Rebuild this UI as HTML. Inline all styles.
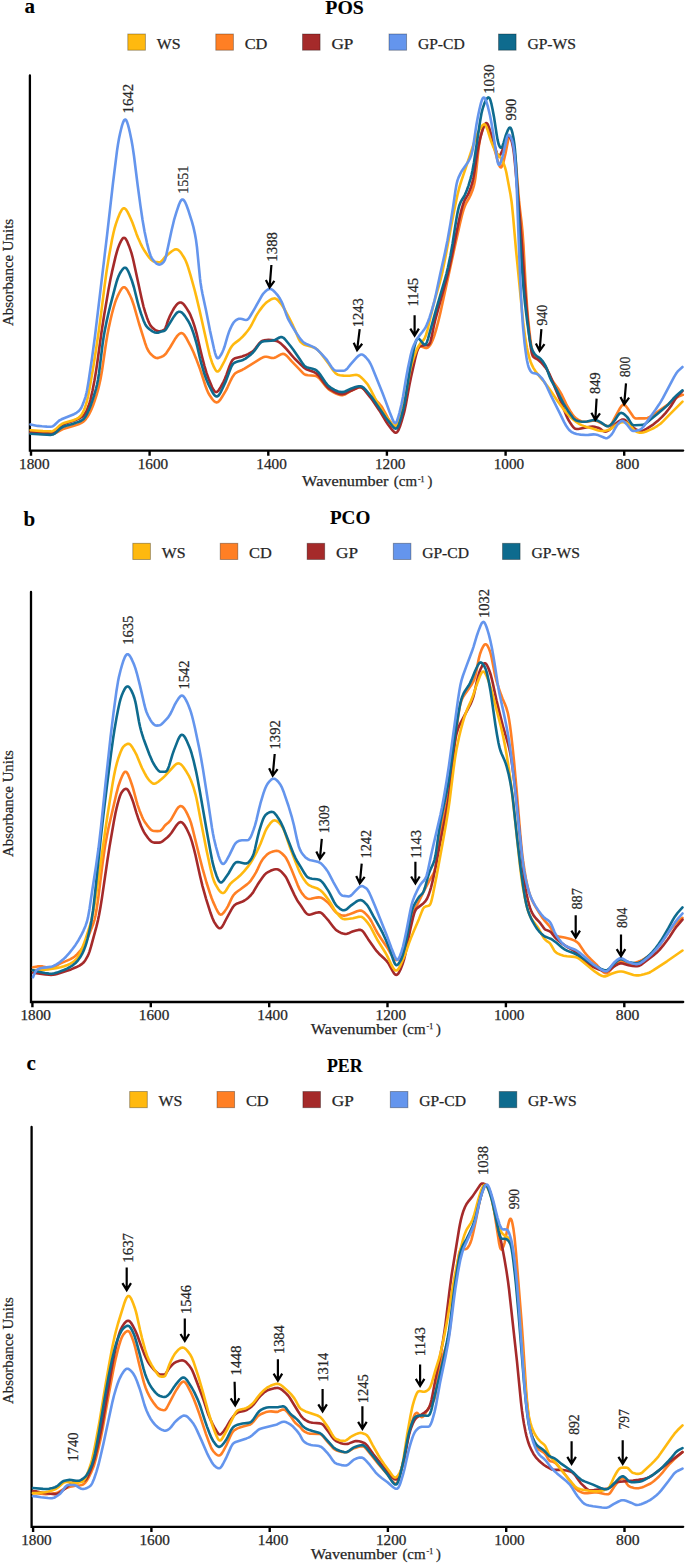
<!DOCTYPE html>
<html><head><meta charset="utf-8"><title>FTIR spectra</title>
<style>
html,body{margin:0;padding:0;background:#fff;}
body{width:685px;height:1563px;overflow:hidden;}
svg{display:block;}
svg text{font-family:"Liberation Serif", serif;fill:#262626;stroke:#262626;stroke-width:0.25px;}
svg text.b{fill:#000;stroke:#000;stroke-width:0.1px;}
</style></head>
<body>
<svg width="685" height="1563" viewBox="0 0 685 1563">
<text x="24.5" y="12.7" font-size="21.0" font-weight="bold" class="b">a</text>
<text x="325.3" y="14.3" font-size="19.0" font-weight="bold" class="b" textLength="38.5" lengthAdjust="spacingAndGlyphs">POS</text>
<rect x="127.8" y="34.0" width="17.6" height="16.2" fill="#FFB90F" stroke="rgba(0,0,0,0.35)" stroke-width="0.9"/>
<text x="156.7" y="48.7" font-size="14.6" textLength="23.8" lengthAdjust="spacingAndGlyphs">WS</text>
<rect x="215.8" y="34.0" width="17.6" height="16.2" fill="#FF7F24" stroke="rgba(0,0,0,0.35)" stroke-width="0.9"/>
<text x="244.7" y="48.7" font-size="14.6" textLength="22.7" lengthAdjust="spacingAndGlyphs">CD</text>
<rect x="302.5" y="34.0" width="17.6" height="16.2" fill="#A52A2A" stroke="rgba(0,0,0,0.35)" stroke-width="0.9"/>
<text x="331.4" y="48.7" font-size="14.6" textLength="22.0" lengthAdjust="spacingAndGlyphs">GP</text>
<rect x="389.0" y="34.0" width="17.6" height="16.2" fill="#6495ED" stroke="rgba(0,0,0,0.35)" stroke-width="0.9"/>
<text x="417.9" y="48.7" font-size="14.6" textLength="46.8" lengthAdjust="spacingAndGlyphs">GP-CD</text>
<rect x="498.5" y="34.0" width="17.6" height="16.2" fill="#0E6B8E" stroke="rgba(0,0,0,0.35)" stroke-width="0.9"/>
<text x="527.4" y="48.7" font-size="14.6" textLength="48.6" lengthAdjust="spacingAndGlyphs">GP-WS</text>
<path d="M29.9,75.4V450.6H683.2" fill="none" stroke="#000" stroke-width="2.3" stroke-linecap="round"/>
<path d="M31.0,450.6V455.8M149.6,450.6V455.8M268.3,450.6V455.8M386.9,450.6V455.8M505.6,450.6V455.8M624.2,450.6V455.8" stroke="#000" stroke-width="2.4"/>
<text x="34.3" y="468.9" font-size="14.8" text-anchor="middle" textLength="30.5" lengthAdjust="spacingAndGlyphs">1800</text><text x="152.9" y="468.9" font-size="14.8" text-anchor="middle" textLength="30.5" lengthAdjust="spacingAndGlyphs">1600</text><text x="271.6" y="468.9" font-size="14.8" text-anchor="middle" textLength="30.5" lengthAdjust="spacingAndGlyphs">1400</text><text x="390.2" y="468.9" font-size="14.8" text-anchor="middle" textLength="30.5" lengthAdjust="spacingAndGlyphs">1200</text><text x="508.9" y="468.9" font-size="14.8" text-anchor="middle" textLength="30.5" lengthAdjust="spacingAndGlyphs">1000</text><text x="627.5" y="468.9" font-size="14.8" text-anchor="middle" textLength="23.5" lengthAdjust="spacingAndGlyphs">800</text>
<text x="302.1" y="486.4" font-size="14.6" textLength="86.3" lengthAdjust="spacingAndGlyphs">Wavenumber</text>
<text x="393.8" y="486.4" font-size="14.6" textLength="23.2" lengthAdjust="spacingAndGlyphs">(cm</text>
<text x="418.0" y="482.0" font-size="7.8">-1</text>
<text x="427.4" y="486.4" font-size="14.6">)</text>
<text transform="translate(12.5,326.0) rotate(-90)" font-size="15.0" textLength="107.1" lengthAdjust="spacingAndGlyphs">Absorbance Units</text>
<g fill="none" stroke-width="2.6" stroke-linejoin="round" stroke-linecap="round"><path d="M30.5,432.8L38.5,433.6L47.0,434.2L51.0,434.3L52.5,434.2L53.5,433.9L54.5,433.6L56.0,432.9L60.5,430.3L63.0,429.1L65.5,428.3L74.0,425.8L78.5,424.2L81.0,423.1L83.0,421.9L84.5,420.6L86.0,418.8L87.5,416.7L89.0,414.3L90.5,411.5L91.5,409.3L93.0,405.5L94.5,401.3L96.5,395.1L98.0,389.9L99.0,386.0L100.5,379.2L102.0,370.8L106.0,343.2L107.5,334.2L109.0,326.6L110.5,319.8L112.0,313.5L113.5,307.8L115.0,302.9L116.0,300.0L117.5,296.4L119.5,292.3L121.0,289.7L122.0,288.3L123.0,287.5L123.5,287.3L124.0,287.2L124.5,287.3L125.0,287.5L125.5,287.9L126.0,288.4L127.0,289.7L128.0,291.4L129.5,294.3L131.0,297.5L132.0,300.0L134.0,305.9L139.0,323.5L145.0,342.7L146.5,346.9L147.5,349.2L148.5,351.1L149.5,352.5L151.0,354.3L153.0,356.1L154.5,357.2L156.0,357.9L157.0,358.1L158.5,357.9L161.0,357.0L163.0,356.1L164.0,355.4L165.0,354.6L166.5,352.8L170.0,347.5L175.0,339.1L176.5,336.9L177.5,335.6L179.0,334.1L180.0,333.5L180.5,333.3L181.5,333.1L182.0,333.2L183.0,333.7L183.5,334.1L184.5,335.2L185.5,336.7L186.5,338.3L191.0,346.9L193.5,352.2L196.0,358.4L200.0,369.1L201.5,373.5L205.5,386.0L207.0,390.0L208.0,392.3L209.5,395.0L212.0,398.7L213.0,400.0L214.0,401.1L215.0,401.8L215.5,402.1L216.5,402.4L217.0,402.4L218.0,402.0L219.0,401.2L220.5,399.4L222.0,397.0L226.0,390.3L227.5,387.3L231.0,379.8L232.5,376.9L234.0,374.7L235.0,373.6L236.0,372.8L238.0,371.7L242.5,369.7L244.5,368.6L260.5,358.6L263.0,357.3L264.0,357.0L265.0,356.8L266.5,356.8L268.0,357.0L271.5,357.9L272.5,358.0L273.5,358.0L274.5,357.8L276.0,357.1L279.5,355.1L281.0,354.3L282.5,353.9L283.5,353.9L284.0,354.0L285.0,354.5L286.5,355.6L288.0,357.2L291.5,361.2L299.5,369.3L303.0,373.1L304.0,374.0L305.0,374.6L306.0,374.9L308.0,375.2L314.5,375.7L316.0,376.1L317.0,376.5L318.5,377.6L320.0,379.1L321.5,380.9L326.0,386.6L328.0,388.7L329.5,389.9L331.0,390.9L334.0,392.6L336.5,393.8L338.5,394.6L340.0,395.0L341.5,395.2L343.0,395.1L344.0,394.8L345.5,394.2L351.0,390.8L355.5,388.6L357.5,387.7L359.0,387.3L360.5,387.2L361.5,387.5L362.5,388.0L364.0,389.3L368.5,394.1L376.0,400.5L378.0,402.4L379.5,404.0L381.0,405.8L382.5,408.0L388.0,418.1L392.5,424.9L394.0,426.6L395.0,427.4L395.5,427.6L396.0,427.6L396.5,427.5L397.0,427.2L397.5,426.7L398.5,425.1L400.0,421.7L402.0,415.7L404.0,408.8L405.5,402.1L409.5,380.2L411.0,373.0L415.0,356.9L416.0,353.4L417.0,350.5L418.0,348.3L418.5,347.5L419.0,347.0L419.5,346.6L420.0,346.4L421.0,346.5L422.0,346.8L425.0,347.9L426.0,348.0L426.5,348.1L427.5,347.8L428.0,347.4L429.0,346.5L430.0,345.2L431.0,343.6L432.5,340.5L434.0,336.6L436.0,330.2L438.0,322.7L440.5,312.2L455.0,245.8L460.0,223.4L462.0,215.1L463.5,209.8L465.0,205.6L466.5,202.5L469.5,197.3L471.0,194.1L472.5,190.3L474.0,185.3L475.0,180.4L475.5,177.1L476.5,168.7L478.5,149.3L479.0,145.4L480.0,139.3L481.5,132.8L483.0,128.0L484.0,125.8L484.5,125.0L485.0,124.6L485.5,124.4L486.0,124.5L486.5,124.8L487.0,125.4L487.5,126.2L488.5,128.4L490.0,132.4L491.0,135.4L492.0,138.9L495.0,151.1L498.0,161.9L499.0,164.9L499.5,166.0L500.0,166.8L500.5,167.3L501.0,167.4L501.5,167.0L502.0,166.3L502.5,165.1L503.5,161.9L505.5,153.5L508.0,140.7L508.5,138.7L509.0,137.4L509.5,136.7L510.0,136.5L510.5,136.7L511.0,137.3L511.5,138.2L512.5,140.6L513.5,144.6L514.0,147.3L514.5,150.6L515.5,159.0L516.5,169.7L519.0,200.2L520.0,209.6L521.5,221.9L522.5,231.8L523.5,245.8L525.5,283.0L527.0,306.1L528.0,317.8L529.5,332.3L531.0,344.1L532.0,350.0L532.5,352.1L533.0,353.7L533.5,354.8L534.0,355.6L535.0,356.6L538.5,358.9L541.0,361.0L543.5,363.6L545.5,366.2L547.0,369.0L549.5,375.2L551.0,378.3L553.0,381.6L558.0,388.5L560.0,391.6L562.0,395.2L566.0,403.6L567.5,406.5L570.0,410.7L572.5,414.5L574.5,417.0L576.0,418.3L577.5,419.4L579.0,420.2L581.5,421.4L583.0,421.7L585.0,421.8L587.0,421.6L592.5,420.8L594.0,420.6L595.5,420.7L596.5,421.0L598.0,421.6L606.5,425.8L608.0,426.3L609.0,426.3L609.5,426.1L610.0,425.8L610.5,425.3L611.5,424.0L612.5,422.2L615.0,417.3L620.0,408.2L621.5,406.0L622.5,405.1L623.0,404.8L623.5,404.7L624.0,404.8L624.5,405.0L625.0,405.3L626.0,406.2L627.5,408.2L633.0,416.3L634.0,417.5L635.0,418.2L635.5,418.4L636.5,418.5L639.0,418.4L644.5,418.4L646.0,418.2L647.5,417.9L649.0,417.3L651.5,416.0L653.5,414.9L660.0,410.1L668.5,404.1L670.5,402.5L674.5,399.1L676.0,397.9L677.0,397.3L678.5,396.5L682.8,394.8" stroke="#FF7F24"/><path d="M30.5,432.0L43.0,432.9L48.0,433.1L51.0,433.1L52.0,433.0L53.0,432.7L54.0,432.1L55.5,431.0L60.5,426.3L62.0,425.1L63.0,424.5L66.0,423.2L72.0,421.3L75.0,420.2L79.0,418.6L81.5,417.2L83.0,416.0L84.0,414.9L85.0,413.5L86.5,410.8L87.5,408.6L88.5,406.1L89.5,403.2L90.5,399.6L92.5,390.7L94.5,380.3L96.0,371.4L97.0,364.8L101.5,332.3L104.0,316.0L108.5,289.6L110.5,279.1L112.0,271.9L115.5,256.9L117.0,251.3L118.0,248.1L119.5,244.2L120.5,242.1L121.5,240.2L122.5,238.7L123.0,238.2L123.5,237.9L124.0,237.8L124.5,237.9L125.0,238.2L125.5,238.7L126.0,239.3L127.0,241.1L128.0,243.4L129.0,245.9L130.5,250.1L131.5,253.2L132.5,256.8L133.5,261.0L141.5,298.1L143.5,306.5L145.0,311.7L147.0,317.7L148.5,321.6L150.0,324.7L151.0,326.2L152.5,327.9L155.0,329.8L157.0,330.8L158.5,331.2L160.0,331.2L162.0,330.8L163.5,330.2L164.5,329.4L165.0,328.8L165.5,327.8L166.5,325.2L168.0,320.5L169.5,316.9L171.5,312.8L173.0,310.0L174.5,307.5L176.0,305.4L177.0,304.3L178.0,303.4L179.0,302.8L180.0,302.5L181.0,302.5L181.5,302.7L182.5,303.3L183.5,304.1L184.5,305.3L186.0,307.4L189.0,312.2L190.5,315.2L192.5,320.2L194.5,326.2L196.5,333.1L197.5,337.2L200.0,348.4L202.0,356.6L204.5,366.1L206.5,372.9L208.5,378.5L212.0,387.0L213.5,389.8L214.5,391.2L215.0,391.6L215.5,391.9L216.0,392.1L216.5,392.0L217.0,391.8L217.5,391.5L218.0,391.1L219.0,389.8L220.5,387.4L223.5,381.8L225.0,378.5L226.5,374.6L229.5,366.2L231.0,362.7L232.0,360.8L232.5,360.1L233.5,359.1L234.5,358.5L236.0,357.9L242.0,356.4L244.5,355.6L248.0,354.1L251.5,352.2L253.0,351.1L254.0,350.1L255.5,348.4L259.5,343.1L261.0,341.6L262.0,341.0L263.0,340.6L264.0,340.4L266.5,340.1L268.5,339.9L271.5,340.0L274.0,340.4L276.5,341.1L278.0,341.6L279.5,342.5L281.5,344.1L284.5,347.0L286.5,349.1L292.0,355.7L294.5,358.5L302.0,365.9L304.0,367.7L305.5,368.8L307.0,369.5L312.5,371.5L314.0,372.1L315.5,372.9L317.0,374.0L318.0,375.0L319.5,376.7L325.0,384.2L327.5,387.2L328.5,388.1L330.0,389.2L334.0,391.6L336.5,392.9L339.0,393.8L341.0,394.1L343.0,394.1L344.5,393.7L346.0,393.2L351.0,390.7L356.5,388.2L358.0,387.6L359.5,387.2L360.5,387.2L361.5,387.5L362.5,388.1L363.5,389.0L365.0,390.7L370.5,397.6L373.0,401.0L379.5,410.7L386.5,422.3L388.0,424.5L391.5,429.1L393.0,430.9L394.5,432.3L395.5,432.7L396.0,432.7L396.5,432.6L397.0,432.2L397.5,431.7L398.5,430.0L400.0,426.3L402.0,420.0L404.0,412.9L405.0,408.6L406.0,403.7L409.5,384.6L411.0,377.2L415.5,357.2L416.5,353.4L417.5,350.2L418.5,348.0L419.0,347.2L419.5,346.7L420.5,346.0L421.5,345.7L423.5,345.4L425.0,345.2L427.5,345.2L428.5,344.9L429.0,344.5L429.5,343.8L430.0,342.8L430.5,341.3L431.5,337.4L434.0,325.3L435.5,319.0L439.0,306.1L446.5,279.1L449.0,269.2L452.0,255.2L458.5,222.7L460.0,215.9L461.5,209.7L463.0,204.5L464.0,201.7L465.0,199.5L467.5,195.3L469.0,192.3L470.5,188.6L472.0,183.9L473.0,179.8L473.5,177.3L474.5,171.3L476.5,157.8L477.5,151.8L479.0,143.7L480.0,139.2L481.0,135.3L482.0,131.8L483.0,128.7L484.0,126.1L485.0,124.1L485.5,123.5L486.0,123.1L486.5,123.1L487.0,123.4L487.5,124.0L488.0,124.9L489.0,127.5L492.5,138.5L497.0,153.8L497.5,155.1L498.0,155.9L498.5,156.3L499.0,156.3L499.5,155.9L500.5,154.4L501.5,152.4L503.0,148.6L506.0,139.8L507.0,137.6L507.5,136.9L508.0,136.3L508.5,136.1L509.0,136.2L509.5,136.6L510.0,137.3L510.5,138.2L511.5,140.8L512.0,142.5L513.0,147.2L513.5,150.3L514.0,154.2L515.0,163.8L518.5,202.3L520.5,225.5L522.0,245.1L525.0,289.0L526.5,307.6L528.0,323.5L529.5,337.5L530.5,345.7L531.5,351.9L532.0,354.0L532.5,355.4L533.0,356.4L533.5,357.0L534.5,357.8L537.0,359.1L538.0,359.7L539.5,361.0L541.5,362.9L543.5,365.1L545.5,367.6L547.0,369.8L548.5,372.4L550.0,375.4L551.5,378.8L555.5,389.0L562.0,404.6L566.5,416.0L567.5,418.2L568.5,420.0L570.5,423.3L572.0,425.5L573.5,427.4L574.5,428.3L575.5,428.8L576.5,429.0L578.0,429.0L579.5,428.8L590.0,426.7L592.5,426.5L594.5,426.8L597.0,427.4L599.0,428.1L600.0,428.6L602.5,430.5L603.5,431.1L604.5,431.5L605.5,431.6L606.5,431.4L607.5,431.0L609.0,430.1L610.5,429.0L612.0,427.7L616.0,423.5L618.5,421.5L620.0,420.6L621.5,419.8L622.5,419.5L623.5,419.5L624.5,419.7L625.5,420.4L626.5,421.3L629.0,424.1L630.0,425.0L634.0,428.0L636.5,429.7L638.5,430.6L640.0,430.9L641.5,430.9L643.0,430.6L644.5,430.0L646.5,428.9L653.5,424.3L657.5,421.1L662.0,416.9L665.5,413.1L669.0,408.8L671.0,406.0L675.0,399.6L677.0,396.8L679.0,394.5L682.5,391.1" stroke="#A52A2A"/><path d="M30.5,430.2L43.0,431.1L48.0,431.3L51.0,431.4L52.0,431.2L53.0,430.9L54.0,430.4L55.5,429.4L60.0,425.3L61.5,424.2L62.5,423.6L64.0,422.9L65.5,422.4L71.5,420.8L73.5,420.2L76.5,418.9L78.5,417.8L80.0,416.6L81.5,414.9L82.5,413.2L84.0,410.0L85.0,407.4L86.0,404.4L87.0,400.8L88.0,396.5L90.0,386.1L93.0,368.8L96.0,349.8L99.0,329.4L101.0,314.4L104.5,286.6L106.5,271.9L109.0,256.3L112.0,239.8L113.5,232.7L114.5,228.7L116.0,223.6L118.0,217.9L120.0,213.1L121.5,210.3L122.5,209.0L123.0,208.6L123.5,208.3L124.0,208.2L124.5,208.3L125.0,208.6L126.0,209.5L127.5,211.9L129.0,214.9L131.0,219.2L132.5,222.8L136.5,233.9L138.0,237.7L140.5,243.3L142.5,247.3L144.5,250.8L147.5,255.2L149.5,257.9L150.5,259.0L151.5,260.0L153.0,261.1L154.0,261.5L155.0,261.8L157.0,262.1L158.5,262.3L159.5,262.3L160.5,262.0L161.0,261.7L162.0,260.8L165.0,257.0L167.0,255.2L171.5,251.5L173.0,250.5L174.5,249.6L176.0,249.3L177.0,249.4L177.5,249.6L178.5,250.2L179.5,251.1L180.5,252.2L181.5,253.6L184.0,257.5L185.0,259.3L186.0,261.5L187.0,264.0L188.0,266.9L190.5,275.2L194.5,289.5L196.5,297.4L199.5,310.0L208.0,348.0L209.5,354.3L210.5,357.9L212.0,362.4L214.0,367.2L215.5,370.0L216.5,371.1L217.0,371.4L217.5,371.5L218.0,371.5L218.5,371.2L219.0,370.7L220.0,369.4L221.0,367.7L224.5,361.0L229.5,350.1L231.0,347.4L232.0,346.0L233.0,344.8L234.5,343.4L239.5,339.6L242.0,337.3L245.5,333.5L247.5,331.0L249.0,329.0L250.5,326.7L251.5,325.0L256.0,316.2L257.5,313.6L259.5,310.6L262.5,306.6L264.0,304.8L265.5,303.3L267.0,302.0L269.5,300.3L271.0,299.4L272.5,298.7L274.0,298.4L275.0,298.5L275.5,298.6L276.5,299.1L277.5,299.9L278.5,300.9L281.5,304.5L283.5,307.5L285.0,310.1L289.0,317.7L293.0,325.7L295.0,330.0L298.0,337.3L299.0,339.4L300.0,341.1L301.0,342.3L302.5,343.6L303.5,344.3L304.5,344.7L307.0,345.6L311.5,346.8L313.5,347.4L315.5,348.3L316.5,349.0L317.5,349.8L319.5,351.8L321.5,354.3L329.0,364.3L332.5,369.5L334.0,371.5L335.5,373.2L337.0,374.3L338.0,374.7L340.0,375.2L343.5,375.6L346.5,375.8L349.5,375.7L354.5,375.0L356.5,374.9L357.5,375.1L358.5,375.5L359.5,376.0L361.0,377.2L363.0,379.1L365.5,381.8L367.0,383.6L368.5,385.8L370.5,389.3L375.0,398.1L377.0,401.8L382.5,411.2L384.5,414.3L386.0,416.4L390.5,422.3L391.5,423.5L392.5,424.5L393.5,425.2L394.5,425.6L395.0,425.6L395.5,425.5L396.0,425.1L396.5,424.6L397.5,423.1L399.0,419.5L401.0,413.4L403.5,404.5L404.5,400.4L405.5,395.5L408.5,378.9L410.0,371.1L411.5,364.9L413.5,358.3L416.0,351.5L417.5,348.1L418.5,346.2L420.0,343.9L421.0,342.7L423.0,340.7L424.0,339.4L424.5,338.5L425.0,337.5L426.0,334.9L427.5,329.8L433.0,306.6L434.5,301.0L439.5,283.7L441.0,278.0L442.5,271.6L445.5,256.8L452.0,221.8L455.0,206.5L457.5,194.8L459.0,188.7L460.0,185.1L461.5,180.3L465.5,168.7L474.5,141.5L476.5,135.9L477.5,133.6L478.5,131.6L481.0,127.2L482.5,125.2L483.5,124.4L484.0,124.3L484.5,124.3L485.0,124.6L485.5,125.1L486.5,127.0L487.5,129.7L490.0,137.9L491.0,140.9L493.0,146.1L494.5,149.5L495.5,151.4L496.5,152.9L499.5,156.5L501.0,158.5L502.0,160.1L503.0,162.1L504.0,164.4L505.0,167.3L506.0,171.0L506.5,173.3L510.5,194.6L511.5,201.2L512.0,205.3L513.0,215.3L516.0,249.8L522.0,310.9L523.5,324.8L525.0,336.1L526.0,342.5L527.0,348.1L528.0,352.7L529.5,358.4L530.5,361.4L532.0,365.2L533.5,368.1L535.5,371.2L539.0,375.8L544.0,381.7L547.5,386.2L551.0,391.2L557.5,401.0L563.0,408.6L565.0,411.1L567.0,413.4L569.5,416.1L571.5,418.0L574.0,420.2L577.0,422.5L579.5,424.1L581.5,425.1L583.5,425.9L586.0,426.8L592.5,428.6L597.5,430.2L599.5,430.7L602.0,431.0L604.0,431.0L606.5,430.5L609.0,429.8L610.0,429.3L611.0,428.7L615.0,425.7L618.5,423.6L620.0,422.9L621.5,422.3L622.5,422.1L623.5,422.0L624.5,422.1L626.0,422.5L627.0,423.0L628.5,424.0L630.0,425.2L631.0,426.2L633.0,428.9L634.0,430.1L635.0,430.9L636.5,431.7L638.0,432.3L639.0,432.6L641.0,432.8L643.0,432.5L645.5,431.8L651.0,429.4L654.0,428.0L657.5,425.8L660.5,423.7L663.0,421.4L669.0,415.1L682.5,401.6" stroke="#FFB90F"/><path d="M30.5,433.7L47.0,434.8L50.5,434.9L51.5,434.8L52.5,434.6L53.5,434.2L55.0,433.3L56.5,432.1L60.5,428.4L62.0,427.4L63.0,426.8L66.0,425.7L72.5,423.9L76.5,422.6L79.5,421.5L81.5,420.5L83.0,419.5L84.0,418.5L85.0,417.2L86.0,415.6L87.5,412.8L89.0,409.7L91.0,404.7L92.5,400.3L94.5,394.0L96.0,388.8L97.0,384.7L98.0,379.7L99.0,373.4L102.5,344.8L103.5,337.9L104.5,332.1L106.5,321.9L108.5,313.0L110.5,304.9L115.0,287.6L116.5,282.2L117.5,279.0L118.5,276.4L119.5,274.2L121.0,271.5L122.5,269.4L123.5,268.3L124.0,268.0L124.5,267.7L125.0,267.7L125.5,267.7L126.0,268.0L126.5,268.5L127.0,269.1L128.0,270.8L129.5,274.3L132.0,281.0L134.0,287.5L137.5,301.6L139.0,307.2L141.0,313.5L143.5,320.4L145.0,323.8L146.0,325.6L147.5,327.5L149.5,329.3L151.5,330.8L153.0,331.6L155.0,332.5L156.5,332.8L158.0,332.7L160.5,331.8L164.0,330.9L165.0,330.3L166.0,329.3L174.0,316.4L176.0,313.7L177.5,312.3L178.5,311.8L179.0,311.7L180.0,311.7L181.0,312.1L182.0,312.7L183.0,313.6L185.0,316.1L188.0,320.7L190.0,324.4L191.5,327.8L193.5,333.4L195.0,338.1L196.5,343.4L197.5,347.4L200.0,358.5L201.5,364.2L204.0,372.7L206.5,379.8L208.5,384.5L212.0,391.4L213.0,393.2L214.0,394.6L215.0,395.7L215.5,396.1L216.0,396.3L216.5,396.5L217.0,396.5L217.5,396.3L218.0,396.0L219.0,395.0L220.5,392.6L222.5,388.5L226.0,380.9L229.5,371.3L231.0,367.5L232.0,365.5L232.5,364.7L233.5,363.5L234.5,362.8L236.0,362.1L237.5,361.5L241.5,360.4L243.5,359.7L245.5,358.6L248.0,356.8L251.0,354.4L253.0,352.5L254.5,350.7L258.0,345.7L259.5,343.8L261.0,342.3L262.0,341.7L263.0,341.4L264.0,341.2L271.0,340.8L273.5,340.4L275.5,339.7L279.5,337.5L281.0,337.1L282.0,337.1L282.5,337.3L283.5,337.8L285.0,339.2L290.5,346.0L293.5,350.1L300.0,359.6L302.5,363.4L304.0,365.4L305.0,366.3L306.5,367.2L308.5,367.8L312.5,368.7L314.0,369.2L315.5,369.8L317.0,370.9L318.5,372.4L320.0,374.3L325.0,381.8L327.0,384.4L328.0,385.5L329.0,386.4L331.0,387.8L334.5,389.9L337.5,391.2L340.0,391.9L342.0,392.1L343.5,391.9L345.0,391.5L351.5,388.4L355.5,387.0L357.5,386.5L359.0,386.2L360.5,386.2L361.5,386.4L363.0,387.3L364.0,388.1L365.5,389.7L369.5,394.3L371.0,396.2L373.0,399.0L385.5,417.2L387.5,419.9L392.0,425.6L393.5,427.3L394.5,428.2L395.5,428.6L396.0,428.6L396.5,428.4L397.0,428.1L397.5,427.5L398.0,426.7L398.5,425.6L399.5,423.0L401.5,416.3L403.5,408.5L404.5,403.7L405.5,398.1L409.0,375.1L410.5,366.0L413.5,350.9L414.5,346.4L415.5,342.7L416.5,340.0L417.0,339.2L417.5,338.7L418.0,338.5L418.5,338.6L419.5,339.3L420.5,340.4L423.0,343.5L424.0,344.4L424.5,344.6L425.0,344.7L425.5,344.5L426.0,344.0L426.5,343.1L427.0,341.9L428.0,338.8L436.0,309.8L445.0,279.0L446.5,273.5L448.0,267.3L450.5,255.3L452.5,244.0L455.0,227.6L456.5,218.4L457.5,212.9L458.5,208.4L459.5,204.9L460.5,202.4L461.5,200.5L464.0,196.5L465.0,194.6L466.0,192.3L467.0,189.8L468.5,185.6L470.5,178.9L471.5,175.0L472.5,170.5L474.0,162.2L480.0,121.8L481.5,113.3L482.0,111.1L483.0,107.5L484.0,104.6L485.0,102.1L486.0,100.0L487.0,98.5L487.5,97.9L488.0,97.5L488.5,97.4L489.0,97.6L489.5,98.2L490.0,99.1L490.5,100.5L491.5,104.2L492.5,108.9L494.0,116.9L496.5,133.5L497.5,139.4L498.5,143.7L499.0,145.1L499.5,146.2L500.0,147.0L500.5,147.6L501.0,147.8L501.5,147.6L502.0,147.0L502.5,146.0L503.5,143.1L505.5,136.3L506.5,133.5L508.0,129.8L509.0,128.1L509.5,127.7L510.0,127.6L510.5,127.8L511.0,128.5L511.5,129.7L512.5,133.2L513.5,138.2L514.5,145.3L515.0,150.1L516.0,163.6L518.5,210.8L520.0,237.2L522.0,268.6L523.5,288.2L525.0,303.7L527.0,320.2L529.5,338.2L530.5,343.7L531.0,345.9L531.5,347.6L532.5,350.3L533.5,352.3L534.5,353.8L536.0,355.4L537.0,356.2L539.5,357.9L541.0,359.3L543.0,361.7L545.0,364.9L546.5,368.0L547.5,370.6L549.5,376.3L550.5,378.8L551.5,380.9L556.5,389.6L563.0,402.6L565.5,406.9L568.0,410.9L572.5,417.1L573.5,418.3L574.5,419.3L575.5,420.1L576.5,420.6L578.0,421.0L580.0,421.5L582.5,421.8L585.0,421.8L587.0,421.5L592.5,420.2L594.0,420.0L595.5,420.1L596.5,420.3L597.5,420.7L600.5,422.2L602.0,423.1L605.0,425.2L606.0,425.8L607.0,426.2L607.5,426.3L608.5,426.2L609.5,425.7L610.5,425.0L612.0,423.6L613.5,422.0L615.0,420.0L618.0,415.3L619.0,414.1L620.0,413.3L620.5,413.0L621.5,412.9L622.5,413.2L624.0,414.1L625.5,415.4L627.0,416.9L628.5,418.9L631.0,423.2L632.0,424.4L632.5,424.8L633.5,425.1L634.5,425.2L640.0,425.0L642.5,424.9L644.0,424.5L645.0,424.0L646.0,423.3L650.5,419.5L657.0,414.3L663.5,408.8L666.5,406.1L668.5,404.2L673.0,399.0L675.0,396.9L677.0,395.0L682.5,390.3" stroke="#0E6B8E"/><path d="M30.5,424.4L37.5,425.9L42.0,426.3L47.0,426.6L50.5,426.7L52.0,426.5L53.0,426.1L54.5,425.0L58.0,421.6L59.0,420.7L60.0,420.1L61.5,419.3L64.0,418.2L74.0,414.2L76.5,412.8L78.5,411.3L80.0,409.7L81.0,408.3L81.5,407.3L82.5,405.1L83.5,402.6L85.5,396.8L86.5,392.8L87.0,390.4L88.5,381.6L92.0,358.2L95.0,336.0L107.0,235.7L113.0,183.0L117.0,150.9L118.0,144.2L119.0,138.5L120.0,133.7L121.0,129.5L122.0,125.7L123.0,122.6L124.0,120.4L124.5,119.8L125.0,119.5L125.5,119.6L126.0,120.0L126.5,120.8L127.0,121.8L128.0,124.8L129.0,128.6L130.0,133.0L131.5,140.3L132.5,145.9L134.0,156.0L137.5,184.0L140.5,206.1L142.5,219.8L144.5,231.3L147.0,243.1L149.0,251.0L150.5,255.5L151.5,257.6L152.5,259.2L154.0,261.1L155.5,262.7L157.0,263.9L158.0,264.3L158.5,264.5L159.5,264.6L160.0,264.5L161.0,264.1L162.5,263.1L163.5,262.1L164.0,261.5L165.0,259.6L166.0,256.4L171.5,230.7L174.0,220.2L176.5,211.8L179.0,204.5L180.0,202.2L181.0,200.5L181.5,200.0L182.0,199.6L182.5,199.5L183.0,199.6L183.5,199.9L184.5,201.1L185.5,202.9L186.5,205.2L188.5,210.8L192.0,221.8L193.5,227.4L195.0,234.2L196.0,239.9L197.0,247.5L200.0,278.4L200.5,282.4L201.5,288.8L202.5,294.0L206.0,310.2L210.0,330.6L214.0,348.8L215.0,352.8L216.0,355.9L216.5,357.0L217.0,357.8L217.5,358.2L218.0,358.3L218.5,358.1L219.0,357.7L219.5,357.1L221.0,354.8L222.5,351.8L223.5,349.5L224.5,346.8L227.5,336.4L229.0,331.8L230.0,329.4L231.5,326.2L233.0,323.5L234.0,322.1L235.0,321.0L236.0,320.2L237.5,319.3L238.5,318.9L239.5,318.8L240.5,318.8L242.0,319.1L244.5,319.8L246.0,320.0L247.0,319.8L248.0,319.2L249.0,318.1L250.0,316.5L254.5,308.8L261.5,296.3L263.0,294.0L264.0,292.8L265.0,291.8L266.5,290.5L267.5,289.8L268.5,289.2L269.5,289.0L270.5,289.0L271.0,289.1L272.0,289.6L273.0,290.3L274.5,291.7L276.0,293.3L278.0,295.7L280.0,298.8L281.5,301.6L282.5,303.8L283.5,306.4L286.5,315.1L287.5,317.6L289.0,320.7L291.0,324.2L296.5,333.2L299.0,337.0L301.0,339.7L302.5,341.4L303.5,342.3L304.5,343.0L307.0,344.3L312.0,346.4L314.0,347.4L316.0,348.7L318.0,350.3L321.0,353.3L326.0,358.9L327.5,360.9L331.5,367.0L333.0,368.9L334.0,369.8L334.5,370.1L335.5,370.5L337.0,370.7L343.5,370.7L344.5,370.5L345.5,370.1L346.5,369.3L347.5,368.3L351.0,363.9L357.0,357.2L358.5,355.8L360.0,354.9L361.0,354.6L361.5,354.5L362.0,354.6L363.0,354.9L364.5,356.0L366.0,357.5L368.0,359.8L369.5,362.0L370.5,363.8L372.0,367.0L382.5,393.1L385.5,400.9L389.5,411.8L393.0,420.4L394.0,422.3L394.5,422.9L395.0,423.1L395.5,423.0L396.0,422.6L396.5,421.9L397.0,420.8L398.0,418.0L399.5,412.6L401.5,404.2L403.0,396.7L406.0,378.7L408.0,367.8L410.5,355.9L412.0,350.2L413.0,347.2L414.0,344.8L415.0,342.7L416.5,339.9L419.0,336.1L422.5,331.8L424.0,329.8L425.5,327.3L426.5,325.3L428.0,321.7L429.5,317.6L431.5,311.3L433.5,304.4L434.5,300.5L436.0,294.0L440.0,275.1L445.0,252.6L447.5,240.3L450.5,223.2L453.0,207.5L455.5,190.3L456.5,184.5L457.0,182.3L457.5,180.4L458.5,177.6L460.5,173.4L462.0,170.7L463.0,169.2L467.0,163.6L468.5,161.2L470.0,158.3L471.0,155.8L471.5,154.3L472.5,150.4L473.0,147.8L476.5,124.3L478.0,116.3L479.5,109.0L481.0,102.9L482.0,99.9L482.5,98.8L483.0,98.0L483.5,97.6L484.0,97.6L484.5,97.8L485.0,98.5L485.5,99.4L486.5,102.0L488.0,107.2L490.0,115.5L491.5,123.3L493.0,132.3L497.0,158.8L497.5,161.3L498.0,163.2L498.5,164.3L499.0,164.8L499.5,164.6L500.0,163.9L500.5,162.9L501.5,160.0L502.5,156.6L503.5,152.7L506.5,138.9L507.0,137.2L507.5,135.9L508.0,135.1L508.5,134.8L509.0,134.8L509.5,135.2L510.0,135.8L511.0,137.6L512.0,140.2L512.5,141.8L513.5,146.5L514.5,153.8L515.0,159.0L516.0,173.3L517.0,194.8L519.0,249.4L520.0,274.0L521.0,295.2L522.0,312.9L523.0,326.9L524.5,342.6L525.5,350.7L526.5,357.6L527.0,360.5L528.0,365.0L528.5,366.7L529.5,369.2L530.5,371.0L531.5,372.2L532.0,372.6L533.0,373.0L536.5,373.8L537.5,374.2L538.5,374.9L540.0,376.3L541.5,377.9L543.0,379.9L544.0,381.4L545.5,384.0L547.0,387.0L551.5,396.7L559.5,412.7L564.0,421.9L566.0,425.5L568.0,428.5L569.5,430.3L571.0,431.6L572.0,432.2L573.5,432.9L576.5,433.9L578.5,434.3L580.5,434.6L585.5,435.0L588.5,434.9L593.5,434.4L595.5,434.5L596.5,434.7L598.0,435.1L604.5,437.8L605.5,438.1L606.5,438.2L607.5,437.9L608.5,437.4L609.5,436.6L611.0,435.1L612.0,433.9L613.0,432.4L615.5,427.7L617.0,425.3L618.0,424.0L619.5,422.4L620.5,421.5L621.5,421.0L622.5,420.9L623.0,421.0L623.5,421.2L624.5,422.0L627.5,425.2L631.0,429.7L632.0,430.6L632.5,430.8L633.0,430.9L634.0,431.0L636.0,430.7L639.0,430.0L640.5,429.4L642.0,428.2L643.0,427.2L644.0,426.0L649.0,418.7L655.5,409.8L659.0,404.6L661.0,401.4L663.0,397.9L674.0,377.2L675.5,374.6L676.5,373.0L677.5,371.7L678.5,370.6L682.5,367.0" stroke="#6495ED"/></g>
<text transform="translate(132.7,113.5) rotate(-90)" font-size="15.2" textLength="29.7" lengthAdjust="spacingAndGlyphs">1642</text>
<text transform="translate(188.2,193.8) rotate(-90)" font-size="15.2" textLength="28.2" lengthAdjust="spacingAndGlyphs">1551</text>
<text transform="translate(276.6,261.7) rotate(-90)" font-size="15.2" textLength="29.7" lengthAdjust="spacingAndGlyphs">1388</text>
<text transform="translate(363.0,327.2) rotate(-90)" font-size="15.2" textLength="29.0" lengthAdjust="spacingAndGlyphs">1243</text>
<text transform="translate(417.9,306.6) rotate(-90)" font-size="15.2" textLength="28.8" lengthAdjust="spacingAndGlyphs">1145</text>
<text transform="translate(493.6,93.8) rotate(-90)" font-size="15.2" textLength="29.3" lengthAdjust="spacingAndGlyphs">1030</text>
<text transform="translate(516.0,120.4) rotate(-90)" font-size="15.2" textLength="21.6" lengthAdjust="spacingAndGlyphs">990</text>
<text transform="translate(546.6,325.7) rotate(-90)" font-size="15.2" textLength="21.1" lengthAdjust="spacingAndGlyphs">940</text>
<text transform="translate(600.1,393.9) rotate(-90)" font-size="15.2" textLength="21.5" lengthAdjust="spacingAndGlyphs">849</text>
<text transform="translate(629.5,377.3) rotate(-90)" font-size="15.2" textLength="20.7" lengthAdjust="spacingAndGlyphs">800</text>
<g fill="none" stroke="#000" stroke-width="2.2" stroke-linecap="butt" stroke-linejoin="miter"><path d="M271.4,265.0L269.6,287.4M265.9,280.1L269.6,287.4L274.4,280.8"/><path d="M359.7,329.1L357.1,350.2M353.7,342.7L357.1,350.2L362.2,343.8"/><path d="M414.6,315.3L414.6,335.7M410.3,328.7L414.6,335.7L418.9,328.7"/><path d="M541.4,329.2L539.6,350.8M535.9,343.5L539.6,350.8L544.5,344.2"/><path d="M596.6,398.6L595.3,420.0M591.4,412.8L595.3,420.0L600.0,413.3"/><path d="M626.0,383.3L624.2,404.3M620.5,397.0L624.2,404.3L629.1,397.7"/></g>
<text x="23.5" y="525.9" font-size="21.0" font-weight="bold" class="b">b</text>
<text x="329.9" y="523.9" font-size="19.0" font-weight="bold" class="b" textLength="40.4" lengthAdjust="spacingAndGlyphs">PCO</text>
<rect x="132.8" y="543.3" width="17.6" height="16.2" fill="#FFB90F" stroke="rgba(0,0,0,0.35)" stroke-width="0.9"/>
<text x="161.7" y="558.0" font-size="14.6" textLength="23.8" lengthAdjust="spacingAndGlyphs">WS</text>
<rect x="220.2" y="543.3" width="17.6" height="16.2" fill="#FF7F24" stroke="rgba(0,0,0,0.35)" stroke-width="0.9"/>
<text x="249.1" y="558.0" font-size="14.6" textLength="22.7" lengthAdjust="spacingAndGlyphs">CD</text>
<rect x="307.1" y="543.3" width="17.6" height="16.2" fill="#A52A2A" stroke="rgba(0,0,0,0.35)" stroke-width="0.9"/>
<text x="336.0" y="558.0" font-size="14.6" textLength="22.0" lengthAdjust="spacingAndGlyphs">GP</text>
<rect x="393.3" y="543.3" width="17.6" height="16.2" fill="#6495ED" stroke="rgba(0,0,0,0.35)" stroke-width="0.9"/>
<text x="422.2" y="558.0" font-size="14.6" textLength="46.8" lengthAdjust="spacingAndGlyphs">GP-CD</text>
<rect x="502.5" y="543.3" width="17.6" height="16.2" fill="#0E6B8E" stroke="rgba(0,0,0,0.35)" stroke-width="0.9"/>
<text x="531.4" y="558.0" font-size="14.6" textLength="48.6" lengthAdjust="spacingAndGlyphs">GP-WS</text>
<path d="M31.0,592.0V1002.0H683.2" fill="none" stroke="#000" stroke-width="2.3" stroke-linecap="round"/>
<path d="M32.4,1002.0V1007.2M150.8,1002.0V1007.2M269.2,1002.0V1007.2M387.5,1002.0V1007.2M505.9,1002.0V1007.2M624.3,1002.0V1007.2" stroke="#000" stroke-width="2.4"/>
<text x="35.7" y="1020.3" font-size="14.8" text-anchor="middle" textLength="30.5" lengthAdjust="spacingAndGlyphs">1800</text><text x="154.1" y="1020.3" font-size="14.8" text-anchor="middle" textLength="30.5" lengthAdjust="spacingAndGlyphs">1600</text><text x="272.5" y="1020.3" font-size="14.8" text-anchor="middle" textLength="30.5" lengthAdjust="spacingAndGlyphs">1400</text><text x="390.8" y="1020.3" font-size="14.8" text-anchor="middle" textLength="30.5" lengthAdjust="spacingAndGlyphs">1200</text><text x="509.2" y="1020.3" font-size="14.8" text-anchor="middle" textLength="30.5" lengthAdjust="spacingAndGlyphs">1000</text><text x="627.6" y="1020.3" font-size="14.8" text-anchor="middle" textLength="23.5" lengthAdjust="spacingAndGlyphs">800</text>
<text x="310.7" y="1033.6" font-size="14.6" textLength="86.3" lengthAdjust="spacingAndGlyphs">Wavenumber</text>
<text x="402.4" y="1033.6" font-size="14.6" textLength="23.2" lengthAdjust="spacingAndGlyphs">(cm</text>
<text x="426.6" y="1029.2" font-size="7.8">-1</text>
<text x="436.0" y="1033.6" font-size="14.6">)</text>
<text transform="translate(13.0,856.9) rotate(-90)" font-size="15.0" textLength="106.7" lengthAdjust="spacingAndGlyphs">Absorbance Units</text>
<g fill="none" stroke-width="2.6" stroke-linejoin="round" stroke-linecap="round"><path d="M33.0,967.3L37.5,966.4L40.0,966.2L42.5,966.4L47.5,967.4L49.5,967.8L51.0,967.8L52.5,967.7L53.5,967.4L55.0,966.7L59.0,964.2L60.5,963.4L66.5,960.9L70.5,959.1L73.0,957.7L75.0,956.3L77.0,954.4L79.0,952.2L81.0,949.8L83.0,946.9L85.0,943.6L86.5,940.7L88.5,936.1L93.0,924.5L94.5,919.8L95.5,915.5L96.5,910.1L98.0,900.1L102.5,864.2L104.5,849.7L105.5,843.5L107.0,835.4L108.5,828.1L110.5,819.2L116.5,793.3L118.5,785.7L120.5,780.0L122.5,775.3L123.5,773.4L124.0,772.7L124.5,772.2L125.0,771.8L125.5,771.7L126.0,771.8L126.5,772.1L127.0,772.7L127.5,773.4L128.5,775.4L130.0,779.2L132.0,785.0L133.0,788.2L136.5,801.2L137.5,804.6L139.5,810.4L142.0,816.6L143.0,818.8L144.0,820.6L145.0,822.2L147.0,825.1L149.5,828.3L151.0,829.7L152.0,830.4L153.0,830.8L154.0,831.0L157.5,831.1L159.5,831.0L160.5,830.7L161.0,830.4L162.0,829.4L164.0,826.7L165.0,825.5L166.0,824.5L168.5,822.5L170.0,820.9L171.0,819.5L172.0,817.9L176.5,809.8L177.5,808.4L178.5,807.2L179.5,806.4L180.0,806.2L180.5,806.0L181.5,806.2L182.0,806.4L183.0,807.1L184.5,808.9L186.0,811.4L188.0,815.4L189.5,818.8L191.0,822.9L192.5,828.4L199.5,856.8L202.5,868.4L206.5,882.5L210.0,893.4L211.5,897.7L213.0,901.6L216.0,908.2L217.5,911.3L218.5,912.9L219.5,914.1L220.0,914.4L220.5,914.6L221.0,914.6L221.5,914.5L222.0,914.3L223.0,913.4L224.5,911.6L226.5,908.6L228.0,906.1L231.5,898.6L232.5,896.7L233.5,895.1L234.5,894.0L235.5,893.0L237.0,891.8L240.5,889.3L247.0,884.4L249.0,882.6L251.0,880.3L253.5,876.6L256.0,872.4L257.5,869.4L260.0,864.0L261.5,861.2L263.0,858.9L265.0,856.6L266.5,855.1L268.0,853.8L269.0,853.2L270.5,852.4L273.0,851.5L275.0,851.0L276.5,850.8L278.0,851.0L279.0,851.4L280.0,851.9L282.0,853.5L284.5,856.0L285.5,857.2L286.5,858.8L288.5,862.7L291.5,869.6L297.5,884.6L299.5,889.1L301.0,891.7L302.5,893.9L304.0,895.8L305.5,897.4L307.0,898.4L308.0,898.8L309.0,899.0L311.0,898.8L316.5,897.6L318.5,897.4L319.5,897.4L320.5,897.6L322.0,898.1L323.0,898.7L324.5,899.7L327.0,901.7L328.5,903.1L330.5,905.4L334.0,910.2L335.0,911.4L336.0,912.4L337.5,913.4L339.0,914.2L340.5,914.9L342.0,915.4L343.0,915.6L344.0,915.6L345.0,915.6L346.5,915.2L348.5,914.6L353.5,912.7L357.0,911.3L359.0,910.7L360.0,910.5L361.0,910.6L362.0,910.9L363.0,911.5L364.5,912.6L366.5,914.6L368.5,916.9L370.0,919.0L371.5,921.5L375.5,929.4L377.5,933.0L381.0,938.5L388.0,948.8L392.0,955.8L393.5,958.1L394.5,959.2L395.0,959.6L396.0,960.1L396.5,960.1L397.0,960.0L398.0,959.5L398.5,959.1L399.5,958.0L400.5,956.6L401.5,955.0L403.0,952.1L404.0,949.4L404.5,947.7L405.5,943.5L408.5,928.2L409.5,923.7L411.0,918.5L412.5,914.5L415.0,908.9L419.0,901.1L424.5,889.9L429.5,880.3L433.0,874.5L434.0,872.3L434.5,870.9L435.5,866.8L436.0,864.0L437.0,856.8L439.0,840.7L440.5,831.1L442.5,820.9L446.5,802.4L448.0,794.5L449.0,788.5L451.0,774.0L454.5,744.7L457.0,725.3L458.5,714.4L459.5,708.2L460.0,705.6L460.5,703.5L461.5,700.3L462.0,699.1L463.0,697.1L464.5,694.7L467.0,691.2L472.0,683.9L473.0,682.2L474.0,680.1L475.0,677.3L476.0,673.3L478.5,660.1L479.0,657.8L480.0,654.0L481.5,649.9L483.0,646.7L484.0,645.2L484.5,644.7L485.0,644.4L485.5,644.2L486.0,644.3L486.5,644.6L487.0,645.1L487.5,645.8L488.0,646.7L489.0,648.8L490.0,651.5L491.0,654.9L491.5,657.1L494.5,672.6L495.5,677.0L496.5,680.8L498.5,687.3L501.0,694.6L502.5,698.4L505.0,704.3L506.5,708.3L507.5,711.8L508.0,713.8L509.0,718.9L510.0,725.5L511.0,733.2L512.5,746.3L514.0,760.9L517.0,794.6L520.5,836.8L522.0,852.1L523.0,860.2L524.5,870.4L526.0,879.0L527.5,886.2L529.0,891.9L530.5,896.4L532.5,901.2L534.5,905.1L539.5,913.4L542.5,918.0L545.0,921.2L548.5,925.0L550.0,926.8L551.0,928.5L553.0,932.4L554.0,934.1L555.0,935.2L555.5,935.5L556.5,936.0L559.0,936.6L564.5,937.5L569.5,938.8L572.0,939.6L574.0,940.4L575.5,941.1L577.0,942.1L578.0,942.9L579.5,944.7L584.5,952.2L586.0,954.1L588.0,956.3L591.0,959.4L596.5,964.7L601.0,969.8L602.5,971.3L603.5,972.2L604.5,972.8L605.5,973.2L606.5,973.2L607.5,972.9L608.5,972.2L610.0,970.6L612.5,967.4L614.0,965.8L617.5,962.7L618.5,962.0L619.5,961.5L620.5,961.3L621.0,961.3L622.0,961.5L623.5,962.1L626.5,963.6L628.0,964.1L629.5,964.2L631.0,964.0L632.5,963.6L634.5,963.0L638.0,961.8L640.0,961.0L642.0,960.1L644.5,958.7L648.5,956.2L651.0,954.2L653.5,951.9L656.5,948.8L658.5,946.6L661.0,943.2L667.5,933.8L672.0,927.8L674.5,924.8L676.0,923.2L677.5,921.8L682.5,917.8" stroke="#FF7F24"/><path d="M33.0,972.6L40.0,973.8L45.5,974.5L49.0,974.8L51.0,974.9L53.0,974.8L55.0,974.4L57.0,973.9L67.0,970.8L71.0,969.4L76.0,967.3L79.5,965.6L82.0,963.9L83.0,963.0L84.0,962.0L85.5,959.9L87.5,956.4L88.5,954.2L89.5,951.6L91.0,946.7L96.5,926.4L98.0,920.1L99.0,915.3L100.5,907.0L102.0,897.6L107.5,859.8L109.5,846.9L114.0,820.7L115.5,813.0L116.5,808.5L117.5,804.4L119.0,799.0L120.0,795.9L121.0,793.5L122.0,791.8L123.5,790.1L124.5,789.3L125.0,789.1L126.0,788.8L126.5,788.9L127.0,789.2L127.5,789.6L128.0,790.2L128.5,791.0L129.5,792.9L131.0,796.3L132.5,800.2L133.5,803.1L136.5,813.1L138.0,817.7L141.0,825.7L143.0,830.2L144.0,832.1L145.0,833.7L148.0,838.0L150.0,840.3L151.0,841.2L152.0,841.9L153.0,842.3L154.0,842.6L159.0,842.6L160.5,842.4L161.0,842.2L162.0,841.7L167.5,837.2L169.5,835.3L171.5,832.8L176.5,825.3L178.0,823.5L179.0,822.7L179.5,822.4L180.5,822.1L181.0,822.1L182.0,822.5L183.0,823.3L184.5,825.1L186.5,828.5L189.0,833.7L190.5,837.3L192.0,841.9L193.5,847.3L195.5,855.3L200.0,875.8L202.5,886.1L206.0,898.6L210.5,912.8L212.5,918.3L214.0,921.6L215.0,923.3L216.5,925.6L217.5,926.9L218.5,927.8L219.0,928.1L219.5,928.3L220.0,928.3L220.5,928.1L221.0,927.8L222.0,926.8L223.5,924.3L226.0,919.5L231.5,909.4L233.0,907.0L234.5,905.2L235.5,904.4L236.5,903.8L238.0,903.2L242.0,901.8L244.5,900.5L246.0,899.5L248.0,897.9L249.5,896.6L251.0,895.0L252.5,893.2L253.5,891.7L257.5,884.8L259.5,881.7L263.0,876.8L264.5,874.9L265.5,873.9L266.5,873.0L268.0,872.1L270.5,870.8L272.5,870.0L274.0,869.6L275.5,869.3L277.0,869.3L278.0,869.5L279.5,870.2L280.5,871.0L281.5,871.9L284.0,874.6L285.5,876.5L286.5,878.2L287.5,880.1L294.5,895.1L297.0,899.9L298.0,901.5L301.0,905.8L304.5,911.1L305.5,912.4L306.5,913.5L307.5,914.2L308.0,914.5L308.5,914.6L309.5,914.7L311.5,914.3L316.0,912.8L318.0,912.4L319.5,912.3L320.5,912.6L321.0,912.8L322.5,913.9L324.5,916.0L329.0,921.2L333.5,927.2L335.5,929.5L337.0,930.7L339.0,931.9L341.0,932.9L343.0,933.6L345.0,934.0L346.0,934.0L347.0,933.8L348.5,933.3L351.0,932.1L352.5,931.5L356.0,930.5L358.5,929.9L359.5,929.8L360.5,929.9L361.5,930.2L362.0,930.6L363.0,931.5L364.0,932.8L368.0,938.9L374.5,948.2L376.5,950.9L379.0,953.7L385.0,959.3L386.5,960.9L387.5,962.1L389.0,964.4L392.5,970.9L394.0,973.3L395.0,974.4L395.5,974.7L396.0,974.9L396.5,974.9L397.0,974.7L397.5,974.4L398.0,973.9L399.0,972.5L400.5,969.5L402.5,964.4L404.0,959.7L405.5,953.5L409.0,935.5L410.5,928.4L413.0,917.6L414.5,912.5L415.5,910.2L416.5,908.8L417.5,907.9L420.5,905.6L423.5,903.2L425.0,901.6L426.0,900.3L427.0,898.7L428.5,895.3L430.0,890.9L431.0,887.5L433.0,879.4L435.5,867.6L440.0,843.5L445.0,818.8L447.5,805.1L449.0,795.3L450.0,787.4L453.5,753.5L454.5,745.1L455.5,738.5L456.5,733.8L458.0,728.9L459.0,726.3L460.0,724.1L461.5,721.1L470.0,705.2L471.0,703.1L472.0,700.7L473.0,697.8L474.0,694.3L477.5,678.9L479.0,673.3L480.5,669.3L482.0,666.2L483.0,664.5L483.5,663.9L484.0,663.5L484.5,663.2L485.0,663.2L485.5,663.4L486.0,663.8L487.0,665.2L488.0,667.3L489.0,669.8L490.0,672.5L491.0,675.7L492.5,681.7L496.5,700.2L499.5,712.6L503.5,728.2L508.0,743.6L509.0,747.5L510.0,752.0L511.0,757.3L512.5,767.3L514.0,779.2L515.5,792.2L518.0,816.7L523.0,869.4L524.5,882.0L525.5,888.3L526.5,893.7L528.0,900.5L529.0,904.4L530.0,907.7L531.5,911.6L533.0,914.5L534.5,916.7L536.0,918.5L539.0,921.7L540.5,923.4L543.5,927.6L544.5,928.8L545.0,929.3L546.0,929.9L549.0,931.0L550.5,931.9L551.5,932.9L554.5,936.8L556.0,938.4L559.0,941.0L562.0,943.4L566.5,946.5L573.0,950.2L574.5,951.2L576.0,952.3L578.5,954.6L583.5,960.0L586.0,962.2L588.0,963.7L590.5,965.4L593.0,966.8L595.0,967.8L599.0,969.5L601.5,970.4L603.5,971.0L605.5,971.3L607.0,971.2L608.5,970.6L610.0,969.7L613.5,967.0L616.5,965.0L618.5,963.9L620.0,963.4L621.0,963.3L622.5,963.5L628.5,965.2L632.5,965.9L635.5,966.2L637.0,966.2L638.5,966.0L640.0,965.3L641.5,964.5L653.0,955.8L656.5,952.8L659.5,949.8L663.0,945.7L667.5,939.8L669.5,937.0L674.0,930.0L676.0,927.2L678.0,924.8L682.5,919.6" stroke="#A52A2A"/><path d="M33.0,970.2L45.0,969.7L48.0,969.4L51.0,969.0L56.0,968.1L60.5,967.2L64.0,966.2L67.5,965.0L70.0,963.9L72.0,962.7L74.0,961.3L76.0,959.6L77.5,957.8L78.5,956.3L79.5,954.5L81.0,951.1L83.0,946.1L85.0,940.8L90.0,925.5L91.5,920.2L93.0,913.4L95.0,901.7L99.0,875.0L105.5,828.7L107.5,815.3L112.5,784.1L114.0,775.8L115.5,768.5L117.0,762.6L118.5,757.7L120.5,752.2L122.0,748.9L122.5,748.0L123.5,746.6L125.0,745.2L126.0,744.6L127.0,744.1L128.0,743.8L128.5,743.8L129.5,744.1L130.0,744.4L131.0,745.4L132.5,747.6L134.5,751.0L136.0,753.8L137.0,755.9L140.5,764.5L142.0,768.0L144.5,772.9L146.5,776.5L148.0,778.7L149.5,780.6L151.5,782.5L152.5,783.3L153.0,783.5L153.5,783.7L154.5,783.7L155.0,783.6L156.0,783.2L158.0,782.0L161.0,779.6L163.0,777.8L165.0,775.8L174.5,765.5L176.0,764.2L177.0,763.7L177.5,763.5L178.5,763.4L179.5,763.6L180.5,764.1L181.5,764.9L182.5,766.0L183.5,767.3L186.5,771.8L189.0,776.1L191.0,780.5L192.5,784.5L193.5,787.4L195.5,794.3L196.5,798.5L197.5,803.3L201.5,824.6L206.5,850.0L210.5,868.5L212.5,876.6L214.0,881.1L215.5,884.4L218.0,888.7L219.5,890.8L220.5,891.9L221.5,892.6L222.5,893.0L223.0,893.0L223.5,892.9L224.5,892.3L225.0,891.8L226.0,890.5L229.0,885.6L230.5,883.6L232.5,881.7L237.5,877.8L240.0,875.6L244.0,871.4L247.5,867.2L250.0,863.8L252.0,860.6L254.5,856.2L257.0,851.3L259.0,847.1L260.5,843.7L265.0,832.0L266.0,829.8L267.0,828.0L268.5,825.7L270.0,823.7L271.0,822.5L272.0,821.6L273.0,820.8L274.0,820.5L275.0,820.4L276.0,820.7L277.5,821.6L279.5,823.4L281.5,825.7L283.0,828.1L284.0,830.3L285.0,832.9L288.5,843.2L290.5,848.7L295.5,861.8L298.5,869.3L300.0,872.6L302.0,876.3L304.0,879.6L306.0,882.3L307.5,883.9L308.5,884.8L309.5,885.4L311.5,886.4L316.0,887.9L318.0,888.8L320.0,890.0L322.0,891.7L323.5,893.3L325.0,895.1L328.5,899.8L330.5,902.9L334.0,909.0L336.0,912.0L339.5,916.2L341.0,917.7L342.0,918.4L343.0,918.9L344.0,919.1L345.5,919.1L347.5,919.0L353.0,918.2L358.0,916.9L360.0,916.7L361.0,916.8L362.0,917.1L363.0,917.8L364.0,918.6L365.5,920.2L368.0,923.2L369.5,925.3L370.5,926.9L372.0,929.6L375.5,936.4L377.0,939.2L379.5,943.3L385.0,952.0L386.5,954.6L388.0,957.6L391.5,965.0L393.0,967.7L394.0,969.1L395.0,970.1L395.5,970.4L396.0,970.5L396.5,970.5L397.0,970.3L397.5,970.0L398.0,969.5L398.5,968.9L399.5,967.2L401.0,964.0L403.5,958.3L405.5,953.2L409.0,943.1L411.0,937.8L413.5,931.7L419.0,918.9L422.0,911.1L423.0,908.9L423.5,908.1L424.0,907.5L424.5,907.1L425.5,906.6L428.5,905.8L429.5,905.2L430.0,904.6L430.5,903.7L431.0,902.4L431.5,900.7L433.0,894.1L436.5,876.5L443.0,841.1L446.0,824.1L448.0,811.8L449.5,801.6L453.5,769.4L455.0,758.3L456.5,749.3L459.0,737.2L460.5,730.9L462.5,723.3L464.5,716.7L466.0,712.4L467.5,708.6L471.0,700.8L472.5,697.1L476.5,685.2L480.0,676.0L481.0,673.9L481.5,673.0L482.0,672.3L482.5,671.8L483.0,671.6L483.5,671.6L484.0,671.8L484.5,672.2L485.0,672.9L486.0,674.8L487.0,677.1L489.0,682.4L491.0,688.6L492.5,694.0L501.0,727.0L503.0,735.7L505.0,745.7L506.5,754.1L508.5,766.5L510.0,776.8L511.5,788.1L513.5,805.5L520.0,865.8L521.5,878.0L522.5,884.7L523.5,890.6L525.0,898.4L526.0,903.0L527.0,907.1L528.0,910.6L529.0,913.5L530.5,916.9L531.5,918.8L533.0,921.1L537.0,926.3L538.5,928.5L540.0,931.1L542.5,935.8L544.0,938.3L545.5,940.0L546.5,940.8L549.0,942.5L550.0,943.4L550.5,944.1L551.5,945.7L554.0,950.2L555.0,951.5L556.5,952.8L558.0,953.6L560.0,954.5L561.5,955.1L563.5,955.7L567.0,956.3L574.5,956.9L576.0,957.2L577.5,957.8L579.0,958.6L580.5,959.7L592.5,969.8L595.0,971.7L599.0,974.3L601.0,975.5L602.5,976.1L604.0,976.4L605.0,976.4L606.5,976.0L611.5,973.8L616.0,972.3L618.0,971.7L620.0,971.5L621.5,971.5L623.5,971.8L633.5,974.9L635.0,975.2L636.5,975.4L638.5,975.4L641.0,975.0L644.0,974.3L647.5,973.3L649.0,972.7L650.5,972.0L653.5,970.2L667.0,961.3L682.5,950.5" stroke="#FFB90F"/><path d="M33.0,970.2L38.5,971.7L45.0,973.0L49.0,973.6L52.0,973.7L54.5,973.3L57.0,972.6L64.5,969.7L67.0,968.6L70.0,967.0L73.0,965.1L75.5,963.0L78.0,960.3L80.0,957.6L82.0,954.2L84.0,949.9L85.5,945.9L86.5,942.7L87.5,939.0L90.0,928.4L91.5,920.5L93.0,910.4L94.0,902.4L95.5,888.8L100.5,840.3L104.0,809.9L107.0,785.3L111.0,753.8L113.0,739.2L114.5,729.5L116.5,717.9L118.0,710.0L119.5,703.0L120.5,699.2L122.0,694.7L123.5,691.3L124.5,689.3L125.5,687.8L126.0,687.2L126.5,686.8L127.0,686.5L127.5,686.4L128.0,686.5L128.5,686.7L129.0,687.1L129.5,687.6L130.5,689.1L131.5,690.9L132.5,693.1L133.5,695.5L134.5,698.5L135.5,702.4L136.0,704.8L139.0,721.7L140.0,726.5L141.0,730.5L142.0,733.9L143.5,738.6L145.0,742.8L149.5,754.7L152.0,760.6L153.5,763.5L155.5,766.8L157.0,769.0L158.5,770.7L159.5,771.4L160.5,771.7L162.0,771.8L165.0,771.8L166.0,771.5L166.5,771.1L167.0,770.5L167.5,769.7L168.0,768.7L169.0,766.1L172.5,754.4L174.0,750.1L178.0,739.9L179.5,736.9L180.5,735.5L181.0,735.1L181.5,734.8L182.0,734.8L182.5,734.9L183.0,735.1L183.5,735.5L184.5,736.7L185.5,738.3L186.5,740.3L189.5,747.2L190.5,749.9L191.5,753.0L193.5,760.3L196.0,771.1L197.5,778.6L200.0,792.2L206.5,829.5L210.5,851.8L212.0,859.6L213.0,864.2L214.5,869.7L216.5,875.7L218.0,879.3L219.0,881.1L219.5,881.7L220.0,882.2L220.5,882.4L221.0,882.5L221.5,882.4L222.5,881.7L223.5,880.7L225.0,878.6L228.5,873.5L232.0,867.3L233.5,864.8L234.5,863.6L235.5,862.7L236.5,862.2L237.0,862.1L238.0,862.1L239.5,862.3L244.5,863.4L245.5,863.5L246.5,863.4L247.5,863.1L248.0,862.8L249.0,861.9L250.0,860.7L251.5,858.5L252.5,856.7L253.5,854.2L254.0,852.7L255.0,849.0L257.5,837.7L259.0,831.7L261.5,823.7L262.5,820.8L263.5,818.3L264.5,816.4L265.5,815.0L266.5,814.1L267.5,813.4L269.0,812.5L270.5,812.0L272.0,811.9L273.0,812.1L273.5,812.3L274.5,813.1L276.0,814.8L278.5,818.5L281.0,822.7L283.0,827.1L292.5,851.3L294.0,854.9L295.5,858.1L297.5,861.8L301.0,867.4L304.5,873.3L306.0,875.5L307.0,876.7L307.5,877.1L308.5,877.8L310.0,878.3L312.0,878.7L317.0,879.3L319.0,879.8L320.5,880.5L321.5,881.4L322.5,882.4L324.0,884.3L328.5,891.1L330.0,893.8L334.0,901.9L335.5,904.3L336.5,905.6L338.0,907.1L340.0,908.8L341.5,909.7L343.0,910.2L344.0,910.3L345.0,910.1L346.0,909.6L347.5,908.6L351.5,905.1L355.5,902.2L357.5,900.9L358.5,900.5L359.5,900.2L360.5,900.1L361.0,900.1L361.5,900.3L362.5,900.7L363.5,901.4L364.5,902.3L366.0,903.8L367.0,904.9L368.0,906.3L369.5,908.8L373.5,916.4L380.0,927.9L383.0,933.7L386.0,940.3L389.0,947.4L390.5,951.5L393.0,959.2L394.0,961.9L395.0,963.9L395.5,964.6L396.0,965.0L396.5,965.2L397.0,965.1L397.5,964.9L398.0,964.4L399.0,963.2L400.5,960.7L401.5,958.6L402.5,955.9L403.0,954.3L404.5,948.4L406.5,939.2L407.5,934.1L410.0,919.8L411.0,914.6L412.0,910.6L413.0,907.6L414.0,905.3L415.0,903.4L418.0,898.4L419.5,896.3L422.5,893.3L423.5,891.6L424.0,890.4L425.0,887.5L428.0,876.6L429.0,873.3L430.5,869.5L433.0,864.1L434.0,861.5L434.5,859.8L435.5,855.4L436.0,852.6L439.0,830.9L440.5,821.6L442.5,811.5L446.5,792.8L448.0,785.0L449.0,779.1L450.5,769.0L454.0,742.2L455.5,731.5L458.5,713.0L459.5,707.5L460.5,702.7L461.0,700.7L462.0,697.3L463.5,693.7L465.0,691.0L468.5,685.8L470.0,683.1L471.5,679.9L475.0,671.2L476.5,668.0L478.0,665.0L479.0,663.5L479.5,662.9L480.0,662.6L480.5,662.4L481.0,662.5L481.5,662.7L482.0,663.1L483.0,664.2L484.0,665.7L485.5,668.7L486.5,671.6L487.0,673.4L488.5,680.1L490.5,691.1L491.5,697.5L495.5,725.5L497.0,734.8L498.5,743.0L499.5,747.4L500.5,750.8L501.5,753.5L504.5,760.2L505.5,762.9L506.5,766.0L508.5,773.6L510.5,783.2L512.0,792.4L513.0,800.1L517.5,841.8L520.5,867.2L523.5,888.6L525.0,897.8L526.0,902.9L527.0,907.1L528.0,910.6L529.5,914.8L531.0,918.3L533.0,922.2L535.0,925.6L537.0,928.7L539.0,931.3L541.0,933.4L543.5,935.6L545.5,936.8L549.0,938.1L550.5,938.7L553.0,940.2L556.5,942.7L562.5,947.9L565.0,949.6L567.5,950.9L574.0,953.3L577.0,954.7L580.0,956.5L593.0,964.6L600.5,968.6L602.5,969.5L604.0,970.0L605.5,970.2L606.5,970.2L607.5,969.9L609.0,968.9L610.0,967.9L613.0,964.6L614.5,963.2L617.5,960.7L618.5,960.0L619.5,959.5L620.0,959.3L621.0,959.3L622.5,959.5L624.0,960.1L627.0,961.6L628.0,961.9L629.5,962.3L632.0,962.7L634.5,963.1L636.0,963.2L637.5,963.1L638.5,962.9L639.5,962.6L641.5,961.5L643.5,960.0L647.5,956.8L650.0,954.5L652.5,951.9L655.5,948.3L658.5,944.3L661.0,940.6L664.0,935.6L668.5,927.9L673.0,919.7L675.0,916.4L677.5,913.0L682.5,907.4" stroke="#0E6B8E"/><path d="M33.0,977.2L34.5,973.6L35.5,971.6L36.5,970.3L37.5,969.5L39.5,968.6L41.5,968.0L44.0,967.6L50.5,966.9L52.0,966.5L53.5,966.0L56.5,964.4L60.0,962.1L63.0,959.6L66.0,956.7L69.0,953.4L72.5,949.0L75.5,944.9L78.5,940.2L81.0,935.7L83.5,930.6L85.5,925.9L87.0,921.5L88.0,917.4L89.5,908.9L92.0,892.0L96.0,866.2L98.5,848.3L101.0,826.9L105.5,783.7L110.5,737.4L113.5,712.8L116.5,690.7L118.0,681.6L119.0,676.6L120.5,670.5L122.0,665.1L123.5,660.4L125.0,656.8L126.0,655.2L126.5,654.7L127.0,654.3L127.5,654.2L128.0,654.3L128.5,654.5L129.0,654.9L130.0,656.2L131.0,657.9L132.0,659.9L133.5,663.3L134.5,665.8L135.5,668.7L137.0,673.8L140.0,685.6L144.5,705.2L145.5,709.0L146.5,712.0L148.0,715.5L150.5,720.1L151.5,721.7L152.5,723.0L154.0,724.5L155.0,725.2L155.5,725.4L156.5,725.6L158.5,725.4L159.5,725.2L160.5,724.9L161.5,724.2L162.5,723.3L167.0,718.6L168.5,716.8L170.0,714.6L171.5,711.7L174.5,705.2L176.5,701.6L179.0,697.8L180.0,696.6L180.5,696.1L181.0,695.8L181.5,695.6L182.0,695.6L182.5,695.7L183.5,696.3L184.0,696.9L185.0,698.3L186.0,700.1L187.0,702.1L188.5,705.6L190.0,709.4L191.0,712.4L192.0,715.8L193.5,721.7L195.0,728.3L199.0,747.2L201.0,757.8L203.0,769.4L208.0,801.2L212.0,828.0L213.0,833.8L214.0,838.8L216.0,847.0L218.5,855.8L219.5,858.7L220.5,861.1L221.5,862.8L222.0,863.4L222.5,863.8L223.0,863.9L223.5,863.9L224.0,863.7L224.5,863.2L225.5,862.0L226.5,860.3L229.5,854.9L234.0,845.6L235.5,843.3L236.5,842.3L237.5,841.6L238.5,841.1L240.5,840.5L242.0,840.3L247.0,840.3L248.0,840.1L248.5,839.8L249.0,839.4L250.0,838.2L251.0,836.3L252.0,833.9L253.5,829.9L255.0,825.4L256.5,819.8L259.0,809.1L260.5,803.2L263.5,793.2L264.5,790.3L265.5,787.7L266.5,785.6L267.5,783.9L269.5,781.3L271.0,779.8L272.0,779.1L272.5,778.9L273.5,778.7L274.5,778.8L275.5,779.2L276.5,780.0L278.0,781.5L279.5,783.4L280.5,784.8L282.0,787.7L284.0,792.8L288.5,806.0L292.0,817.7L294.0,825.5L297.0,839.4L298.5,845.4L299.0,847.0L300.0,849.6L301.0,851.6L302.0,853.2L303.5,855.2L305.0,856.9L306.5,858.2L308.0,859.2L309.5,859.9L311.0,860.3L316.5,861.4L318.5,862.0L319.5,862.5L320.5,863.1L321.5,863.8L322.5,864.8L324.0,866.5L325.5,868.3L327.0,870.4L328.0,871.9L329.5,874.6L333.5,882.3L339.0,892.2L340.5,894.2L341.0,894.7L342.0,895.4L343.0,895.7L344.0,895.9L347.0,896.3L348.5,896.4L349.5,896.2L350.0,896.0L351.0,895.5L352.0,894.6L355.0,891.4L359.0,887.3L360.0,886.6L361.0,886.2L362.0,886.1L363.5,886.6L365.5,887.8L367.0,889.1L368.0,890.5L369.5,893.2L371.0,896.5L375.0,905.9L386.5,934.8L391.5,948.2L394.5,955.7L395.5,957.9L396.0,958.7L396.5,959.3L397.0,959.7L397.5,959.7L398.0,959.4L398.5,958.8L399.0,958.0L400.0,955.8L401.5,951.7L403.0,946.6L404.5,940.1L406.5,930.5L410.0,912.3L411.0,907.5L412.0,903.4L413.0,900.2L414.0,897.6L415.5,894.1L417.5,889.8L419.0,886.9L420.5,884.5L421.5,883.2L424.0,880.5L425.0,879.1L425.5,878.2L426.5,875.9L427.5,872.4L431.0,855.8L433.0,846.8L440.5,814.5L442.0,807.3L444.0,796.4L446.5,781.4L449.0,765.1L458.0,699.6L459.5,689.9L460.5,684.6L461.5,680.4L463.0,675.5L466.5,665.9L472.0,651.3L473.5,646.8L477.0,635.2L478.5,630.9L480.5,625.7L481.5,623.6L482.0,622.8L482.5,622.3L483.0,622.0L483.5,621.9L484.0,622.2L484.5,622.7L485.0,623.5L485.5,624.5L486.5,627.0L487.5,630.0L489.0,635.1L490.5,641.2L492.0,648.6L493.5,657.0L495.0,666.2L497.5,682.8L499.0,691.4L500.0,696.3L503.0,709.6L505.0,719.0L507.0,729.1L508.5,737.5L510.0,747.2L511.0,754.6L513.5,775.4L515.5,793.6L522.0,855.6L523.5,866.9L525.0,875.6L526.0,880.5L527.5,886.9L528.5,890.5L530.0,894.9L531.5,898.6L533.5,902.6L535.5,906.1L538.0,909.9L541.0,914.0L543.5,916.9L545.5,918.6L548.5,920.6L549.5,921.6L550.0,922.2L550.5,922.9L551.5,924.8L554.5,932.0L556.0,934.8L557.5,937.1L559.5,939.9L561.5,942.3L563.0,943.9L564.5,945.1L566.5,946.4L568.5,947.3L574.0,949.2L575.5,949.9L577.0,950.8L579.5,952.6L591.0,962.4L594.5,965.2L601.5,969.8L603.5,970.7L604.5,971.1L605.5,971.2L606.5,971.2L607.0,971.0L608.0,970.4L609.5,968.8L612.5,964.6L613.5,963.3L614.5,962.2L616.5,960.4L618.0,959.3L619.0,958.7L620.0,958.3L621.0,958.3L622.5,958.6L624.0,959.4L627.0,961.3L628.5,962.0L632.5,963.4L634.0,963.8L635.5,964.1L637.5,964.1L639.0,963.8L641.0,962.8L643.0,961.4L648.5,957.0L651.0,954.8L654.5,951.2L658.0,947.1L660.5,943.9L663.0,940.4L668.0,933.0L673.0,925.3L675.0,922.4L677.5,919.2L682.5,913.5" stroke="#6495ED"/></g>
<text transform="translate(133.0,644.7) rotate(-90)" font-size="15.2" textLength="29.0" lengthAdjust="spacingAndGlyphs">1635</text>
<text transform="translate(188.6,689.4) rotate(-90)" font-size="15.2" textLength="29.0" lengthAdjust="spacingAndGlyphs">1542</text>
<text transform="translate(279.7,749.5) rotate(-90)" font-size="15.2" textLength="29.3" lengthAdjust="spacingAndGlyphs">1392</text>
<text transform="translate(328.5,833.3) rotate(-90)" font-size="15.2" textLength="28.1" lengthAdjust="spacingAndGlyphs">1309</text>
<text transform="translate(370.6,858.5) rotate(-90)" font-size="15.2" textLength="28.6" lengthAdjust="spacingAndGlyphs">1242</text>
<text transform="translate(420.5,858.5) rotate(-90)" font-size="15.2" textLength="28.6" lengthAdjust="spacingAndGlyphs">1143</text>
<text transform="translate(488.9,617.9) rotate(-90)" font-size="15.2" textLength="28.8" lengthAdjust="spacingAndGlyphs">1032</text>
<text transform="translate(581.8,909.6) rotate(-90)" font-size="15.2" textLength="21.4" lengthAdjust="spacingAndGlyphs">887</text>
<text transform="translate(626.7,928.0) rotate(-90)" font-size="15.2" textLength="20.4" lengthAdjust="spacingAndGlyphs">804</text>
<g fill="none" stroke="#000" stroke-width="2.2" stroke-linecap="butt" stroke-linejoin="miter"><path d="M274.7,754.0L272.7,775.7M269.1,768.3L272.7,775.7L277.6,769.1"/><path d="M321.8,838.9L319.9,858.8M316.3,851.4L319.9,858.8L324.8,852.2"/><path d="M361.7,863.6L359.8,883.5M356.2,876.1L359.8,883.5L364.7,876.9"/><path d="M415.4,861.7L415.4,883.5M411.1,876.5L415.4,883.5L419.7,876.5"/><path d="M575.7,915.2L575.7,937.7M571.4,930.7L575.7,937.7L580.0,930.7"/><path d="M621.0,934.6L621.0,956.1M616.7,949.1L621.0,956.1L625.3,949.1"/></g>
<text x="26.5" y="1070.1" font-size="21.0" font-weight="bold" class="b">c</text>
<text x="326.9" y="1071.7" font-size="19.0" font-weight="bold" class="b" textLength="35.7" lengthAdjust="spacingAndGlyphs">PER</text>
<rect x="129.7" y="1091.5" width="17.6" height="16.2" fill="#FFB90F" stroke="rgba(0,0,0,0.35)" stroke-width="0.9"/>
<text x="158.6" y="1106.2" font-size="14.6" textLength="23.8" lengthAdjust="spacingAndGlyphs">WS</text>
<rect x="217.0" y="1091.5" width="17.6" height="16.2" fill="#FF7F24" stroke="rgba(0,0,0,0.35)" stroke-width="0.9"/>
<text x="245.9" y="1106.2" font-size="14.6" textLength="22.7" lengthAdjust="spacingAndGlyphs">CD</text>
<rect x="302.9" y="1091.5" width="17.6" height="16.2" fill="#A52A2A" stroke="rgba(0,0,0,0.35)" stroke-width="0.9"/>
<text x="331.8" y="1106.2" font-size="14.6" textLength="22.0" lengthAdjust="spacingAndGlyphs">GP</text>
<rect x="390.3" y="1091.5" width="17.6" height="16.2" fill="#6495ED" stroke="rgba(0,0,0,0.35)" stroke-width="0.9"/>
<text x="419.2" y="1106.2" font-size="14.6" textLength="46.8" lengthAdjust="spacingAndGlyphs">GP-CD</text>
<rect x="499.2" y="1091.5" width="17.6" height="16.2" fill="#0E6B8E" stroke="rgba(0,0,0,0.35)" stroke-width="0.9"/>
<text x="528.1" y="1106.2" font-size="14.6" textLength="48.6" lengthAdjust="spacingAndGlyphs">GP-WS</text>
<path d="M31.6,1127.0V1526.8H683.2" fill="none" stroke="#000" stroke-width="2.3" stroke-linecap="round"/>
<path d="M33.1,1526.8V1532.0M151.4,1526.8V1532.0M269.7,1526.8V1532.0M387.9,1526.8V1532.0M506.2,1526.8V1532.0M624.5,1526.8V1532.0" stroke="#000" stroke-width="2.4"/>
<text x="36.4" y="1545.1" font-size="14.8" text-anchor="middle" textLength="30.5" lengthAdjust="spacingAndGlyphs">1800</text><text x="154.7" y="1545.1" font-size="14.8" text-anchor="middle" textLength="30.5" lengthAdjust="spacingAndGlyphs">1600</text><text x="273.0" y="1545.1" font-size="14.8" text-anchor="middle" textLength="30.5" lengthAdjust="spacingAndGlyphs">1400</text><text x="391.2" y="1545.1" font-size="14.8" text-anchor="middle" textLength="30.5" lengthAdjust="spacingAndGlyphs">1200</text><text x="509.5" y="1545.1" font-size="14.8" text-anchor="middle" textLength="30.5" lengthAdjust="spacingAndGlyphs">1000</text><text x="627.8" y="1545.1" font-size="14.8" text-anchor="middle" textLength="23.5" lengthAdjust="spacingAndGlyphs">800</text>
<text x="310.7" y="1558.8" font-size="14.6" textLength="86.3" lengthAdjust="spacingAndGlyphs">Wavenumber</text>
<text x="402.4" y="1558.8" font-size="14.6" textLength="23.2" lengthAdjust="spacingAndGlyphs">(cm</text>
<text x="426.6" y="1554.4" font-size="7.8">-1</text>
<text x="436.0" y="1558.8" font-size="14.6">)</text>
<text transform="translate(13.0,1404.0) rotate(-90)" font-size="15.0" textLength="106.8" lengthAdjust="spacingAndGlyphs">Absorbance Units</text>
<g fill="none" stroke-width="2.6" stroke-linejoin="round" stroke-linecap="round"><path d="M33.0,1493.1L36.0,1493.3L43.0,1494.0L46.0,1494.1L48.5,1494.0L51.0,1493.8L54.0,1493.4L56.0,1493.0L57.0,1492.7L58.5,1492.1L64.0,1488.9L65.5,1488.2L67.0,1487.7L70.0,1486.8L73.0,1486.2L75.5,1485.8L80.5,1485.2L82.5,1484.8L83.5,1484.2L84.0,1483.9L85.0,1482.9L86.5,1481.0L88.0,1478.6L89.5,1475.8L91.5,1471.6L93.0,1468.1L94.0,1465.3L96.0,1458.5L98.5,1448.3L101.0,1437.1L102.5,1429.5L108.0,1398.4L113.5,1368.9L115.5,1359.4L118.0,1349.3L119.5,1344.0L120.5,1340.8L121.5,1338.1L122.5,1336.0L123.5,1334.4L125.0,1332.6L126.5,1331.4L127.5,1331.0L128.0,1331.0L128.5,1331.2L129.0,1331.5L129.5,1332.1L130.0,1332.8L131.5,1336.1L133.5,1341.6L134.5,1344.9L135.5,1348.7L139.0,1363.5L142.5,1377.4L144.0,1382.9L145.5,1387.5L147.5,1392.4L149.5,1396.4L151.5,1399.8L154.0,1403.4L156.5,1406.6L158.0,1408.1L159.0,1408.8L160.5,1409.5L162.5,1410.0L164.0,1410.2L164.5,1410.1L165.0,1410.0L165.5,1409.6L166.0,1409.1L167.0,1407.5L174.5,1393.1L176.5,1389.7L180.0,1384.3L181.5,1382.6L182.5,1381.9L183.0,1381.7L183.5,1381.6L184.0,1381.7L185.0,1382.3L185.5,1382.8L186.5,1384.2L188.0,1386.8L191.5,1393.7L194.0,1399.5L196.5,1406.0L199.5,1414.4L206.0,1434.1L209.5,1443.6L211.0,1447.3L212.0,1449.3L213.5,1451.5L215.5,1453.7L216.5,1454.5L217.5,1455.1L218.5,1455.5L219.0,1455.5L219.5,1455.4L220.0,1455.2L221.0,1454.4L222.0,1453.1L223.5,1450.6L226.5,1445.0L230.0,1437.0L231.5,1433.9L233.0,1431.6L234.0,1430.6L235.0,1429.8L237.5,1428.4L240.5,1427.2L243.0,1426.4L248.5,1425.1L249.5,1424.8L250.5,1424.3L251.5,1423.6L253.0,1422.1L257.0,1417.2L258.5,1415.7L260.0,1414.6L263.0,1413.2L266.0,1412.1L267.5,1411.7L269.0,1411.5L271.0,1411.4L275.5,1411.9L277.0,1411.9L278.5,1411.4L282.0,1409.8L283.0,1409.5L284.0,1409.6L284.5,1409.7L285.5,1410.3L287.0,1411.7L290.5,1416.1L294.0,1421.2L295.0,1422.5L296.0,1423.5L299.5,1426.4L300.5,1427.5L302.5,1430.0L303.5,1430.9L305.0,1431.9L306.5,1432.6L308.0,1433.2L309.5,1433.6L311.5,1433.8L319.0,1433.9L320.0,1434.1L321.0,1434.5L322.0,1435.3L323.0,1436.3L326.5,1440.6L332.5,1447.5L333.5,1448.5L334.5,1449.4L336.0,1450.2L339.0,1451.2L342.0,1451.9L344.5,1452.2L346.5,1452.1L347.5,1451.9L348.5,1451.5L353.5,1448.5L355.0,1447.9L358.0,1446.9L360.0,1446.4L361.5,1446.2L363.0,1446.4L364.0,1446.8L365.0,1447.5L366.5,1449.1L378.5,1464.1L387.0,1473.8L388.5,1475.7L391.5,1480.0L393.0,1481.8L394.0,1482.8L395.0,1483.4L395.5,1483.6L396.0,1483.5L396.5,1483.3L397.0,1482.8L397.5,1482.1L398.0,1481.1L399.0,1478.4L400.0,1474.9L402.0,1466.9L404.0,1458.2L407.5,1439.9L409.0,1432.9L410.5,1427.1L412.0,1422.0L413.0,1418.9L414.0,1416.2L415.0,1414.2L415.5,1413.6L416.0,1413.1L416.5,1412.9L417.0,1412.9L417.5,1413.2L418.0,1413.6L420.0,1416.0L421.0,1416.9L421.5,1417.1L422.0,1417.1L422.5,1417.0L423.0,1416.6L423.5,1416.2L424.5,1414.9L428.5,1408.1L429.5,1406.6L432.0,1403.4L433.0,1401.9L434.0,1400.0L434.5,1398.7L435.0,1397.0L435.5,1394.8L436.0,1392.0L438.5,1373.7L439.0,1370.4L440.0,1365.0L441.0,1360.9L442.0,1357.6L445.5,1348.1L447.0,1343.5L448.0,1339.6L449.0,1334.7L450.0,1328.1L451.0,1319.8L454.0,1289.8L455.5,1276.5L457.5,1262.5L459.0,1254.1L459.5,1252.1L460.0,1250.6L460.5,1249.5L461.0,1249.0L461.5,1248.7L462.0,1248.7L464.0,1249.2L465.0,1249.3L466.0,1249.1L466.5,1248.9L467.5,1248.0L468.5,1246.6L469.5,1244.8L470.5,1242.6L471.5,1239.6L473.0,1233.6L475.5,1222.1L479.0,1204.4L480.0,1200.0L481.0,1196.1L482.5,1191.0L483.5,1188.1L484.0,1187.0L484.5,1186.1L485.0,1185.4L485.5,1185.1L486.0,1185.0L486.5,1185.3L487.0,1185.7L487.5,1186.4L488.0,1187.2L489.0,1189.3L490.5,1193.3L491.5,1196.7L492.0,1198.7L493.5,1206.6L499.0,1242.6L500.0,1247.2L500.5,1248.6L501.0,1249.4L501.5,1249.6L502.0,1249.3L502.5,1248.5L503.5,1246.3L504.5,1243.1L505.5,1238.8L508.0,1225.6L509.0,1221.5L509.5,1220.0L510.0,1219.0L510.5,1218.7L511.0,1219.0L511.5,1220.0L512.0,1221.6L512.5,1223.7L513.5,1229.3L514.5,1236.8L516.0,1252.5L521.5,1320.8L523.0,1342.2L526.0,1388.3L527.0,1400.5L528.0,1410.4L529.0,1418.8L530.0,1425.8L530.5,1428.8L531.5,1433.7L532.5,1437.3L534.0,1441.4L535.5,1444.6L536.5,1446.4L537.5,1447.8L538.5,1449.0L539.5,1450.0L541.0,1451.0L543.5,1452.5L544.5,1453.3L545.0,1453.8L546.0,1455.2L548.5,1459.5L549.5,1460.7L550.5,1461.3L553.0,1461.8L554.0,1462.2L555.0,1462.8L556.5,1464.1L558.0,1465.8L565.5,1475.0L570.0,1480.8L575.0,1487.7L576.5,1489.3L578.0,1490.5L580.0,1491.6L582.0,1492.5L583.5,1493.0L585.0,1493.3L587.5,1493.3L594.0,1492.5L596.5,1492.4L599.0,1492.7L604.5,1494.0L607.0,1494.3L608.0,1494.3L608.5,1494.2L609.5,1493.6L610.0,1493.1L611.0,1491.8L614.0,1487.0L618.0,1481.8L620.0,1479.6L621.0,1478.8L622.0,1478.4L622.5,1478.4L623.0,1478.6L623.5,1478.9L624.0,1479.3L625.0,1480.7L627.0,1484.0L628.0,1485.3L628.5,1485.8L629.5,1486.5L630.5,1486.9L632.5,1487.6L634.0,1488.0L636.0,1488.2L637.5,1488.3L639.0,1488.1L640.5,1487.8L642.5,1487.2L644.5,1486.4L650.0,1483.8L652.0,1482.5L654.0,1481.0L656.5,1478.8L659.0,1476.5L662.0,1473.2L667.5,1466.3L670.0,1463.5L674.0,1459.6L682.5,1452.0" stroke="#FF7F24"/><path d="M33.0,1491.1L35.0,1491.2L36.5,1491.4L44.0,1492.9L50.5,1493.8L54.5,1494.1L56.0,1494.1L57.0,1493.9L58.0,1493.5L59.0,1493.0L61.0,1491.7L67.0,1487.1L71.0,1483.6L72.5,1482.6L73.5,1482.1L75.0,1481.8L82.0,1481.2L84.0,1480.8L85.0,1480.3L86.0,1479.4L86.5,1478.7L87.5,1477.1L88.5,1475.2L90.0,1471.7L92.0,1466.6L93.5,1462.4L94.5,1459.1L96.0,1453.4L98.5,1442.7L101.0,1430.8L103.0,1420.2L111.5,1369.7L113.5,1358.4L115.5,1348.6L118.0,1338.0L119.0,1334.4L120.0,1331.4L121.0,1329.0L122.0,1327.0L124.0,1323.9L125.5,1322.1L126.5,1321.2L127.0,1321.0L128.0,1320.7L128.5,1320.7L129.0,1320.9L129.5,1321.2L130.0,1321.6L131.0,1322.8L132.5,1325.2L135.0,1330.0L137.0,1334.5L141.0,1345.6L144.0,1353.4L146.0,1358.0L147.5,1361.0L149.5,1364.2L152.0,1367.5L154.5,1370.3L158.0,1373.5L159.0,1374.1L159.5,1374.3L160.5,1374.5L163.5,1374.6L164.5,1374.4L165.0,1374.2L165.5,1373.8L166.0,1373.2L168.0,1370.0L169.5,1367.8L171.0,1366.1L172.5,1364.5L174.0,1363.2L175.5,1362.3L177.5,1361.4L179.5,1360.8L181.0,1360.5L182.0,1360.4L183.0,1360.5L184.0,1360.8L185.0,1361.3L186.5,1362.6L189.0,1365.3L190.5,1367.4L191.5,1369.0L192.5,1370.9L194.0,1374.5L201.5,1394.2L203.5,1399.9L207.5,1412.2L208.5,1415.0L210.0,1418.6L212.5,1423.9L215.0,1428.5L217.5,1432.7L218.5,1433.9L219.0,1434.3L219.5,1434.5L220.0,1434.5L220.5,1434.4L221.5,1433.7L222.5,1432.7L224.0,1430.7L226.0,1427.8L230.0,1420.9L231.5,1418.7L234.0,1415.5L236.0,1413.6L237.5,1412.6L239.0,1412.0L244.0,1410.9L246.0,1410.2L247.5,1409.5L249.5,1408.2L252.0,1406.2L253.5,1404.6L258.0,1398.6L260.0,1396.3L263.5,1393.0L265.0,1391.8L266.5,1390.8L267.5,1390.3L269.0,1389.7L271.5,1388.9L273.5,1388.4L275.0,1388.1L276.5,1388.0L277.5,1387.9L278.5,1388.1L279.5,1388.4L280.5,1388.9L282.5,1390.2L286.0,1393.4L288.0,1395.5L289.0,1396.8L290.5,1399.0L298.0,1411.3L300.0,1414.4L302.0,1417.2L303.0,1418.2L304.0,1419.1L305.5,1420.1L307.0,1421.0L308.5,1421.7L310.0,1422.3L311.5,1422.6L313.0,1422.8L320.0,1423.4L321.5,1423.8L322.5,1424.3L323.5,1425.2L324.5,1426.4L329.0,1432.6L332.0,1436.9L334.0,1439.4L335.0,1440.3L336.0,1441.0L339.0,1442.4L341.0,1443.2L343.0,1443.7L345.0,1444.0L346.5,1444.0L347.5,1443.9L349.0,1443.4L354.0,1441.5L355.5,1441.1L357.0,1441.1L359.0,1441.3L361.0,1441.8L363.5,1442.7L365.0,1443.5L366.0,1444.3L367.5,1445.9L373.0,1453.7L381.0,1463.7L386.0,1470.2L388.5,1473.2L392.5,1477.5L394.0,1478.8L395.0,1479.4L395.5,1479.5L396.0,1479.5L396.5,1479.4L397.0,1479.1L397.5,1478.6L398.0,1477.9L398.5,1477.1L399.5,1474.9L401.0,1470.8L403.0,1464.3L404.5,1458.2L407.5,1442.0L409.0,1435.0L410.0,1431.3L411.0,1428.2L413.0,1423.1L414.5,1420.2L415.5,1418.8L416.5,1417.8L418.0,1416.7L421.0,1414.9L424.5,1412.5L426.0,1411.4L427.5,1410.0L428.5,1408.6L429.0,1407.7L430.0,1405.3L430.5,1403.7L431.5,1399.7L432.5,1395.0L436.0,1376.6L440.5,1354.4L443.0,1340.7L444.5,1331.2L445.5,1324.0L449.5,1290.8L451.5,1275.8L459.0,1229.5L460.0,1224.0L461.0,1219.4L462.0,1215.5L463.5,1210.7L465.0,1207.0L466.5,1204.1L468.0,1201.9L472.5,1196.4L480.0,1185.2L481.0,1184.1L481.5,1183.7L482.0,1183.5L482.5,1183.5L483.5,1183.6L485.0,1184.3L486.5,1185.5L487.5,1186.5L488.5,1188.0L489.0,1189.0L489.5,1190.1L490.5,1193.1L492.5,1200.3L494.5,1208.7L502.5,1248.5L504.5,1259.3L506.5,1271.1L508.0,1281.2L509.0,1289.0L517.0,1361.6L521.0,1402.4L522.0,1410.9L523.0,1418.0L524.0,1424.0L525.5,1431.8L526.5,1436.1L528.0,1441.5L529.5,1445.7L531.5,1450.2L533.5,1453.9L535.5,1456.8L537.0,1458.6L538.5,1460.2L541.0,1462.5L544.0,1465.0L546.5,1466.7L552.0,1469.5L553.0,1469.8L554.0,1469.9L561.5,1469.9L564.5,1470.2L566.5,1470.5L568.5,1471.0L570.5,1471.6L572.0,1472.3L573.0,1473.0L574.5,1474.5L576.0,1476.4L579.0,1480.8L580.5,1482.8L582.0,1484.4L585.5,1487.8L587.0,1489.1L588.5,1489.9L590.0,1490.3L591.5,1490.3L594.0,1490.1L605.5,1488.8L607.5,1488.5L608.5,1488.2L609.5,1487.7L610.5,1487.0L613.5,1484.2L615.0,1483.0L616.0,1482.5L617.0,1482.2L620.0,1481.7L633.0,1480.6L638.5,1479.9L641.5,1479.4L644.5,1478.8L647.0,1478.1L648.5,1477.6L651.0,1476.2L653.5,1474.5L662.0,1468.0L670.5,1461.1L682.5,1452.1" stroke="#A52A2A"/><path d="M33.0,1493.1L38.5,1492.9L45.0,1492.2L48.5,1491.5L52.0,1490.5L55.0,1489.3L56.5,1488.5L58.0,1487.4L62.5,1483.5L64.0,1482.5L65.0,1482.1L66.0,1482.0L67.0,1482.0L72.0,1482.7L74.5,1482.9L78.0,1482.6L80.0,1482.3L81.5,1482.0L82.5,1481.6L83.0,1481.3L84.0,1480.3L85.0,1478.8L86.0,1476.9L88.0,1472.1L90.5,1465.0L92.0,1459.8L94.0,1450.9L96.0,1440.6L99.5,1421.5L105.5,1385.0L109.5,1362.2L112.0,1348.7L114.5,1336.9L116.0,1330.8L118.0,1323.5L124.5,1302.7L125.5,1300.0L126.5,1297.9L127.0,1297.1L127.5,1296.5L128.0,1296.1L128.5,1296.0L129.0,1296.1L129.5,1296.4L130.0,1296.9L131.0,1298.4L132.0,1300.5L133.0,1302.9L135.0,1308.5L136.0,1311.9L137.0,1315.9L140.0,1329.8L142.0,1338.1L145.0,1349.3L147.0,1355.4L149.0,1360.2L151.5,1364.9L154.0,1368.9L157.5,1374.1L158.5,1375.4L159.5,1376.2L160.0,1376.4L161.0,1376.6L163.0,1376.6L164.0,1376.5L164.5,1376.3L165.0,1375.9L165.5,1375.2L166.0,1374.2L168.5,1366.9L169.5,1364.3L171.5,1359.8L173.0,1356.8L174.5,1354.3L176.0,1352.4L178.0,1350.2L179.0,1349.2L180.0,1348.5L181.5,1347.7L182.5,1347.6L183.5,1347.7L184.5,1348.2L185.5,1348.9L187.0,1350.4L189.0,1352.9L190.5,1355.1L192.0,1357.9L193.5,1361.7L198.5,1376.9L203.0,1392.3L208.5,1412.5L212.5,1425.5L214.5,1431.1L216.5,1435.9L218.0,1439.0L218.5,1439.7L219.0,1440.2L219.5,1440.5L220.0,1440.5L220.5,1440.4L221.0,1440.0L221.5,1439.5L222.5,1438.0L226.5,1430.8L234.5,1414.7L236.0,1412.2L237.0,1411.1L238.0,1410.3L239.0,1409.9L240.5,1409.5L244.0,1408.8L246.0,1408.2L248.0,1407.2L250.5,1405.4L252.0,1404.1L253.5,1402.6L255.0,1400.7L258.5,1396.0L260.5,1393.7L264.5,1389.7L267.0,1387.7L268.5,1386.8L270.5,1385.8L272.5,1385.0L274.0,1384.4L275.5,1384.0L276.5,1383.9L277.5,1383.9L278.5,1384.0L279.5,1384.3L280.5,1384.8L282.5,1386.2L288.0,1391.1L291.0,1394.2L293.0,1396.6L294.5,1398.6L296.0,1401.1L298.0,1405.0L299.0,1406.8L300.0,1408.1L301.0,1409.0L303.0,1410.2L305.5,1411.4L317.5,1415.5L319.5,1416.6L321.0,1417.8L322.0,1418.8L323.5,1420.7L327.5,1426.5L329.0,1428.8L332.0,1434.1L333.5,1436.5L334.5,1437.7L335.0,1438.2L336.0,1438.9L337.5,1439.6L340.0,1440.4L342.0,1440.8L344.0,1440.9L345.0,1440.7L346.5,1440.1L347.5,1439.4L350.5,1437.0L352.5,1435.8L356.0,1434.1L358.5,1433.2L359.5,1433.0L360.5,1432.9L361.5,1433.0L362.5,1433.2L364.5,1433.9L365.5,1434.4L366.5,1435.0L367.5,1436.0L369.0,1438.1L372.5,1444.8L378.5,1455.5L381.0,1459.6L384.0,1464.0L389.0,1470.7L392.0,1475.0L393.0,1476.2L394.0,1477.1L394.5,1477.4L395.0,1477.5L395.5,1477.5L396.0,1477.3L396.5,1477.0L397.0,1476.6L398.0,1475.5L399.5,1473.1L400.5,1471.1L401.0,1469.8L402.0,1466.5L402.5,1464.3L403.5,1458.9L407.0,1435.6L410.5,1415.7L412.0,1408.4L413.0,1404.3L414.0,1400.9L415.5,1396.4L416.5,1394.0L417.0,1393.0L417.5,1392.3L418.0,1391.7L418.5,1391.4L419.0,1391.2L419.5,1391.1L423.0,1391.8L424.5,1391.8L426.0,1391.3L427.0,1390.7L428.0,1390.0L429.0,1389.0L430.0,1387.5L431.0,1385.3L432.0,1382.2L435.0,1371.7L439.0,1358.7L440.5,1353.0L442.5,1344.3L445.0,1332.1L447.0,1321.6L448.5,1312.9L452.5,1288.2L455.0,1274.6L457.0,1264.7L458.5,1257.8L460.5,1249.3L462.5,1241.4L463.5,1237.8L464.5,1234.7L466.0,1230.9L467.5,1228.2L471.0,1222.9L472.5,1219.8L474.0,1215.5L478.0,1200.5L481.0,1191.0L482.0,1188.3L483.0,1186.3L483.5,1185.6L484.0,1185.1L484.5,1184.9L485.0,1185.0L485.5,1185.2L486.0,1185.6L487.0,1186.9L488.5,1189.7L490.0,1193.3L491.0,1196.5L491.5,1198.4L494.0,1210.2L495.5,1216.4L497.5,1223.2L498.5,1226.1L499.5,1228.6L500.5,1230.7L501.5,1232.3L502.5,1233.6L503.5,1234.6L505.0,1235.9L506.0,1236.6L509.0,1238.0L509.5,1238.4L510.0,1239.0L510.5,1240.0L511.0,1241.5L511.5,1243.5L512.0,1246.1L513.0,1252.6L514.5,1264.4L515.5,1273.3L517.0,1288.4L519.5,1316.7L524.0,1372.5L525.5,1389.5L526.5,1399.8L527.5,1408.2L528.5,1414.6L529.5,1419.4L530.5,1423.2L531.5,1426.4L533.0,1430.4L534.5,1433.5L536.5,1436.8L538.0,1438.9L540.0,1441.1L541.5,1442.6L544.0,1444.6L545.0,1445.7L546.0,1447.4L549.0,1454.5L550.0,1456.3L551.0,1457.6L553.5,1460.1L555.5,1462.4L567.5,1477.8L573.0,1484.2L574.5,1485.9L575.5,1486.8L576.5,1487.6L577.5,1488.1L579.0,1488.8L580.5,1489.2L584.0,1490.0L589.0,1490.8L593.0,1491.2L596.5,1491.4L599.0,1491.2L601.5,1490.7L604.5,1489.9L607.0,1488.9L608.0,1488.3L608.5,1487.9L609.5,1486.8L610.0,1485.9L611.0,1483.9L614.0,1477.1L616.0,1473.5L617.5,1471.0L618.5,1469.7L619.5,1468.7L620.5,1468.1L621.5,1467.8L624.0,1467.6L626.0,1467.5L627.0,1467.7L627.5,1467.9L628.5,1468.6L631.0,1471.4L632.0,1472.3L632.5,1472.6L633.5,1473.1L635.5,1473.6L638.0,1473.9L639.5,1473.8L641.0,1473.3L642.5,1472.3L651.5,1463.9L654.5,1460.9L657.0,1458.1L658.5,1456.3L660.5,1453.6L671.5,1437.8L674.5,1433.7L677.5,1430.3L682.5,1425.4" stroke="#FFB90F"/><path d="M33.0,1488.0L36.0,1488.2L43.0,1488.9L45.5,1489.0L47.0,1489.0L49.0,1488.7L52.5,1487.9L55.0,1487.2L56.5,1486.5L58.0,1485.5L61.0,1482.7L62.0,1481.9L63.0,1481.3L64.5,1480.7L67.0,1480.2L69.5,1479.9L71.5,1480.0L76.0,1480.7L77.5,1480.8L79.0,1480.7L80.5,1480.2L81.5,1479.7L83.0,1478.7L85.0,1477.1L86.5,1475.3L88.0,1473.0L90.0,1469.2L92.0,1464.4L93.5,1459.7L95.0,1453.5L96.5,1446.0L99.0,1432.4L104.5,1399.4L108.5,1377.1L110.0,1369.5L112.0,1360.1L113.5,1353.5L115.0,1347.5L116.5,1342.4L118.0,1338.3L120.0,1333.6L121.5,1330.8L123.0,1328.8L124.0,1327.9L125.0,1327.0L126.5,1326.1L127.5,1325.8L128.0,1325.8L128.5,1325.9L129.0,1326.1L129.5,1326.5L130.5,1327.7L131.5,1329.3L132.5,1331.2L134.0,1334.5L135.0,1337.3L136.5,1342.3L140.0,1355.2L143.5,1368.7L145.0,1373.7L146.5,1377.8L148.5,1382.3L150.5,1386.0L152.5,1388.9L154.5,1391.5L156.0,1393.1L157.5,1394.5L158.5,1395.3L160.0,1396.0L162.5,1396.7L164.0,1397.0L165.0,1396.9L165.5,1396.8L166.5,1396.3L167.5,1395.6L168.5,1394.7L169.5,1393.6L171.0,1391.6L174.0,1387.0L175.5,1384.9L179.0,1380.7L180.5,1379.0L182.0,1377.9L183.0,1377.5L184.0,1377.6L184.5,1377.8L185.5,1378.5L186.5,1379.6L187.5,1380.9L192.0,1388.0L194.5,1392.6L197.5,1399.1L199.0,1402.7L200.5,1406.8L205.0,1420.8L207.0,1426.6L209.5,1433.3L211.5,1437.9L213.0,1440.7L215.0,1443.6L216.5,1445.4L217.5,1446.2L218.0,1446.6L219.0,1446.9L219.5,1446.9L220.5,1446.5L221.5,1445.8L223.0,1444.2L225.0,1441.5L226.5,1439.2L227.5,1437.4L230.5,1431.2L231.5,1429.4L232.5,1428.0L233.5,1426.9L234.5,1426.2L236.0,1425.4L237.5,1424.8L239.5,1424.2L242.5,1423.5L248.5,1422.9L249.5,1422.6L250.5,1422.2L251.5,1421.5L253.0,1419.9L257.0,1413.9L258.5,1412.0L259.5,1411.0L261.0,1409.9L263.0,1408.8L264.5,1408.2L266.0,1407.7L267.0,1407.5L269.0,1407.3L277.0,1407.2L278.5,1407.1L282.0,1406.4L283.5,1406.4L284.5,1406.8L285.5,1407.5L286.5,1408.7L289.0,1412.2L290.5,1414.0L292.0,1415.3L295.0,1417.6L297.0,1419.4L299.0,1421.5L302.0,1425.3L303.5,1426.8L304.5,1427.6L306.0,1428.5L307.5,1429.3L309.5,1430.1L312.5,1431.1L318.0,1432.4L319.5,1432.9L320.5,1433.5L321.5,1434.2L323.0,1435.7L333.0,1446.9L334.5,1448.2L336.5,1449.5L339.5,1450.8L342.0,1451.6L344.0,1452.1L346.0,1452.2L347.0,1452.0L348.5,1451.3L352.0,1448.6L353.5,1447.6L355.0,1446.9L357.0,1446.2L359.5,1445.5L361.5,1445.2L363.0,1445.3L363.5,1445.5L364.5,1446.1L365.5,1447.0L367.0,1448.7L370.0,1452.5L373.5,1456.7L386.5,1473.2L388.0,1475.2L391.5,1480.6L393.0,1482.6L394.0,1483.7L395.0,1484.4L395.5,1484.5L396.0,1484.5L396.5,1484.3L397.0,1483.8L397.5,1483.0L398.0,1482.0L399.0,1479.1L400.0,1475.5L402.0,1467.1L404.0,1458.1L407.5,1439.6L409.0,1432.8L410.0,1429.2L411.5,1424.5L412.5,1421.7L413.5,1419.4L414.5,1417.8L415.0,1417.2L416.0,1416.5L417.0,1416.1L419.0,1415.7L421.0,1415.5L423.0,1415.5L427.0,1415.7L428.0,1415.7L428.5,1415.5L429.0,1415.2L429.5,1414.6L430.0,1413.8L431.0,1411.1L432.0,1407.3L434.5,1396.2L438.5,1380.2L442.5,1363.1L445.0,1351.8L447.5,1339.1L449.0,1330.4L450.5,1320.1L454.5,1288.0L456.0,1277.2L458.5,1261.6L460.0,1254.1L461.0,1250.5L462.5,1246.5L463.5,1244.4L466.5,1239.1L468.5,1235.2L472.0,1227.6L474.0,1222.5L475.0,1219.6L476.0,1216.1L479.5,1201.5L480.5,1197.8L482.0,1192.7L483.0,1189.6L484.0,1187.0L484.5,1186.1L485.0,1185.5L485.5,1185.2L486.0,1185.2L486.5,1185.5L487.0,1186.1L488.0,1188.0L489.5,1192.1L491.5,1198.7L492.5,1202.5L493.5,1206.9L498.5,1230.8L499.5,1234.9L500.0,1236.4L500.5,1237.5L501.0,1238.2L501.5,1238.6L502.5,1238.8L505.0,1238.9L506.0,1239.1L507.0,1239.5L508.0,1240.3L509.0,1241.5L510.0,1243.3L510.5,1244.5L511.0,1246.2L511.5,1248.4L512.5,1254.3L513.5,1262.0L515.0,1275.2L516.0,1284.9L518.5,1313.5L524.0,1382.5L526.0,1403.0L527.5,1415.9L528.5,1422.7L529.0,1425.5L529.5,1427.9L530.5,1431.8L531.5,1434.9L533.0,1438.7L534.5,1441.7L536.0,1444.0L537.0,1445.2L538.5,1446.6L542.5,1449.4L544.0,1450.5L545.5,1452.0L548.0,1454.9L549.0,1455.8L550.5,1456.7L553.0,1457.7L555.0,1458.7L556.5,1459.8L561.5,1463.9L570.0,1469.8L573.0,1472.2L578.5,1477.6L581.0,1479.6L582.5,1480.5L584.5,1481.4L593.0,1484.6L600.5,1488.0L603.0,1488.8L604.5,1489.2L605.5,1489.3L606.5,1489.2L607.5,1489.0L608.5,1488.5L609.5,1487.8L611.0,1486.5L615.5,1482.2L619.5,1477.9L621.0,1476.8L622.0,1476.3L623.0,1476.3L624.0,1476.7L625.5,1477.8L628.0,1480.4L629.0,1481.2L630.0,1481.8L631.0,1482.1L632.0,1482.2L634.5,1482.1L639.5,1481.7L640.5,1481.5L642.0,1481.0L644.5,1479.8L650.5,1476.3L653.0,1474.8L656.0,1472.6L659.5,1469.9L663.0,1466.7L668.0,1461.5L670.5,1458.7L675.0,1453.2L676.5,1451.7L677.5,1450.8L678.5,1450.2L682.5,1448.2" stroke="#0E6B8E"/><path d="M33.0,1496.2L36.0,1496.4L41.0,1497.2L48.0,1498.0L50.5,1498.2L52.5,1498.1L54.0,1497.7L55.5,1497.0L57.5,1495.7L59.5,1494.3L60.5,1493.3L61.5,1492.2L64.5,1487.9L65.5,1486.7L66.5,1485.8L67.5,1485.2L68.5,1485.0L69.5,1485.0L73.0,1485.0L74.5,1485.1L75.5,1485.4L76.5,1485.9L79.5,1487.9L80.5,1488.5L81.5,1488.8L82.5,1489.0L83.5,1488.9L84.5,1488.7L85.5,1488.4L87.0,1487.9L88.5,1487.1L89.5,1486.5L90.5,1485.7L91.0,1485.1L91.5,1484.4L92.5,1482.6L94.0,1479.0L96.5,1471.7L98.5,1464.7L100.5,1456.5L103.5,1443.4L112.5,1401.6L114.0,1395.5L116.0,1388.6L117.5,1384.0L119.0,1380.0L120.0,1377.8L121.5,1374.9L123.5,1371.8L125.0,1369.9L126.0,1369.1L126.5,1368.8L127.5,1368.7L128.0,1368.8L129.0,1369.2L130.0,1370.0L131.0,1370.9L132.5,1372.6L133.5,1374.0L135.0,1376.6L137.0,1381.2L139.5,1388.2L141.0,1392.9L144.5,1405.0L146.5,1410.5L148.5,1414.9L150.5,1418.7L152.5,1421.6L155.0,1424.6L156.5,1426.1L158.0,1427.4L159.5,1428.5L161.0,1429.3L162.5,1430.1L164.0,1430.6L165.0,1430.7L166.0,1430.6L167.0,1430.2L168.0,1429.8L169.5,1428.7L171.0,1427.1L174.0,1423.2L175.5,1421.5L178.5,1418.8L181.0,1416.9L182.5,1416.0L184.0,1415.6L185.0,1415.7L185.5,1415.8L187.0,1416.5L188.0,1417.3L189.0,1418.3L191.5,1421.2L193.5,1423.8L195.0,1426.3L197.0,1430.4L201.5,1440.4L207.5,1454.2L209.0,1457.2L211.5,1461.7L213.0,1464.0L214.5,1465.8L216.0,1467.1L217.5,1468.0L218.5,1468.3L219.5,1468.3L220.0,1468.0L220.5,1467.7L221.5,1466.5L223.0,1464.0L226.0,1458.2L231.0,1446.9L232.5,1444.4L233.0,1443.8L234.0,1442.9L235.0,1442.3L236.5,1441.7L246.5,1438.4L248.5,1437.6L250.0,1436.8L251.0,1436.2L252.5,1435.0L257.5,1430.5L259.0,1429.4L260.5,1428.7L263.0,1427.9L275.0,1425.1L277.5,1424.2L280.5,1422.6L282.0,1422.0L283.5,1421.7L284.5,1421.8L285.5,1422.0L286.5,1422.3L288.5,1423.3L291.0,1424.9L293.0,1426.6L296.5,1430.4L298.5,1432.9L300.0,1435.1L302.0,1438.9L303.0,1440.5L304.0,1441.6L305.0,1442.4L307.0,1443.6L309.5,1444.6L311.0,1445.0L312.5,1445.3L317.5,1445.8L319.0,1446.1L320.0,1446.4L321.0,1446.8L322.5,1447.9L324.5,1449.8L328.0,1453.7L329.5,1455.6L333.0,1460.7L334.5,1462.4L335.5,1463.2L336.5,1463.7L337.5,1464.0L339.5,1464.6L341.5,1465.1L344.5,1465.5L345.5,1465.5L346.5,1465.4L347.5,1465.0L348.5,1464.4L352.5,1460.7L353.5,1459.9L354.5,1459.4L357.0,1458.3L359.5,1457.6L361.0,1457.5L362.0,1457.6L362.5,1457.8L364.0,1458.7L366.0,1460.6L370.0,1465.2L375.5,1472.3L377.0,1473.9L379.0,1475.8L382.0,1478.2L387.5,1482.3L392.0,1486.3L393.5,1487.5L395.0,1488.4L396.0,1488.7L397.0,1488.7L397.5,1488.5L398.0,1488.1L398.5,1487.5L399.5,1485.5L400.5,1482.8L401.5,1479.7L403.0,1474.7L404.5,1469.0L408.0,1453.1L409.5,1447.2L411.0,1442.1L412.5,1437.5L413.5,1434.9L414.5,1432.7L415.5,1431.1L417.0,1429.4L418.5,1428.1L420.0,1427.2L421.0,1426.9L422.0,1426.8L428.0,1426.7L429.0,1426.4L429.5,1426.1L430.0,1425.5L431.0,1423.6L432.0,1421.0L433.0,1417.7L434.5,1412.1L436.0,1405.4L440.0,1383.0L445.5,1356.7L448.0,1343.5L449.5,1334.2L450.5,1327.0L454.0,1298.8L455.5,1287.7L458.0,1272.1L459.5,1263.9L460.5,1259.1L462.0,1253.3L463.0,1250.2L464.0,1247.5L472.0,1229.9L474.0,1224.9L475.0,1221.8L476.0,1218.1L479.5,1201.8L481.0,1196.2L482.5,1191.7L484.0,1187.9L485.0,1186.0L485.5,1185.3L486.0,1184.8L486.5,1184.6L487.0,1184.6L487.5,1184.9L488.0,1185.4L488.5,1186.3L489.5,1188.6L490.5,1191.5L492.0,1196.3L493.5,1201.6L496.0,1211.9L497.5,1217.6L499.5,1224.1L500.5,1226.7L501.0,1227.7L501.5,1228.4L502.0,1228.9L502.5,1229.2L503.5,1229.4L505.5,1229.4L506.5,1229.6L507.0,1229.8L507.5,1230.2L508.0,1230.8L509.0,1232.8L510.0,1235.6L511.0,1239.1L512.0,1243.4L513.0,1249.0L514.5,1260.0L516.0,1273.5L517.0,1283.9L519.0,1309.0L524.5,1386.1L525.5,1397.6L527.0,1410.8L528.0,1418.0L529.0,1424.3L530.0,1429.8L531.5,1436.4L533.0,1441.5L535.0,1446.9L536.5,1450.3L537.5,1452.1L538.5,1453.6L539.5,1454.9L540.5,1455.9L544.0,1458.8L545.5,1460.3L551.5,1468.0L554.0,1470.7L557.0,1473.4L566.5,1481.3L569.0,1483.7L570.5,1485.5L571.5,1486.9L575.5,1493.3L577.5,1496.2L581.0,1500.5L582.5,1502.2L583.5,1503.1L584.5,1503.9L585.5,1504.4L587.0,1505.0L589.0,1505.5L593.0,1506.3L602.0,1507.5L604.5,1507.7L606.0,1507.7L607.0,1507.6L608.0,1507.3L609.5,1506.7L613.5,1504.2L618.5,1501.5L620.5,1500.6L622.0,1500.3L623.0,1500.2L624.0,1500.3L626.0,1500.8L631.0,1502.7L635.0,1504.6L636.0,1504.9L637.0,1505.0L639.0,1504.8L641.0,1504.3L643.5,1503.3L647.0,1501.7L650.0,1500.1L653.0,1498.0L656.5,1495.2L659.0,1492.9L661.0,1490.6L663.0,1488.1L668.5,1481.0L673.0,1474.9L675.0,1472.7L676.0,1471.9L677.5,1471.0L682.5,1468.6" stroke="#6495ED"/></g>
<text transform="translate(77.7,1461.4) rotate(-90)" font-size="15.2" textLength="28.9" lengthAdjust="spacingAndGlyphs">1740</text>
<text transform="translate(132.8,1262.7) rotate(-90)" font-size="15.2" textLength="29.7" lengthAdjust="spacingAndGlyphs">1637</text>
<text transform="translate(190.5,1314.0) rotate(-90)" font-size="15.2" textLength="28.9" lengthAdjust="spacingAndGlyphs">1546</text>
<text transform="translate(240.7,1375.6) rotate(-90)" font-size="15.2" textLength="30.0" lengthAdjust="spacingAndGlyphs">1448</text>
<text transform="translate(283.6,1354.1) rotate(-90)" font-size="15.2" textLength="28.9" lengthAdjust="spacingAndGlyphs">1384</text>
<text transform="translate(327.7,1381.7) rotate(-90)" font-size="15.2" textLength="28.9" lengthAdjust="spacingAndGlyphs">1314</text>
<text transform="translate(367.6,1403.2) rotate(-90)" font-size="15.2" textLength="29.0" lengthAdjust="spacingAndGlyphs">1245</text>
<text transform="translate(424.8,1356.2) rotate(-90)" font-size="15.2" textLength="29.0" lengthAdjust="spacingAndGlyphs">1143</text>
<text transform="translate(487.6,1174.9) rotate(-90)" font-size="15.2" textLength="28.9" lengthAdjust="spacingAndGlyphs">1038</text>
<text transform="translate(519.3,1209.3) rotate(-90)" font-size="15.2" textLength="20.4" lengthAdjust="spacingAndGlyphs">990</text>
<text transform="translate(578.7,1434.8) rotate(-90)" font-size="15.2" textLength="20.5" lengthAdjust="spacingAndGlyphs">892</text>
<text transform="translate(628.8,1429.6) rotate(-90)" font-size="15.2" textLength="20.4" lengthAdjust="spacingAndGlyphs">797</text>
<g fill="none" stroke="#000" stroke-width="2.2" stroke-linecap="butt" stroke-linejoin="miter"><path d="M126.7,1267.4L126.7,1290.1M122.4,1283.1L126.7,1290.1L131.0,1283.1"/><path d="M184.8,1318.5L184.8,1341.0M180.5,1334.0L184.8,1341.0L189.1,1334.0"/><path d="M234.6,1381.7L235.2,1405.3M230.7,1398.4L235.2,1405.3L239.3,1398.2"/><path d="M277.9,1359.3L277.9,1380.7M273.6,1373.7L277.9,1380.7L282.2,1373.7"/><path d="M322.6,1388.9L322.6,1411.4M318.3,1404.4L322.6,1411.4L326.9,1404.4"/><path d="M362.4,1406.3L362.4,1428.8M358.1,1421.8L362.4,1428.8L366.7,1421.8"/><path d="M420.1,1364.4L420.1,1385.8M415.8,1378.8L420.1,1385.8L424.4,1378.8"/><path d="M571.6,1441.3L571.6,1463.8M567.3,1456.8L571.6,1463.8L575.9,1456.8"/><path d="M622.7,1440.3L622.7,1463.8M618.4,1456.8L622.7,1463.8L627.0,1456.8"/></g>
</svg>
</body></html>
